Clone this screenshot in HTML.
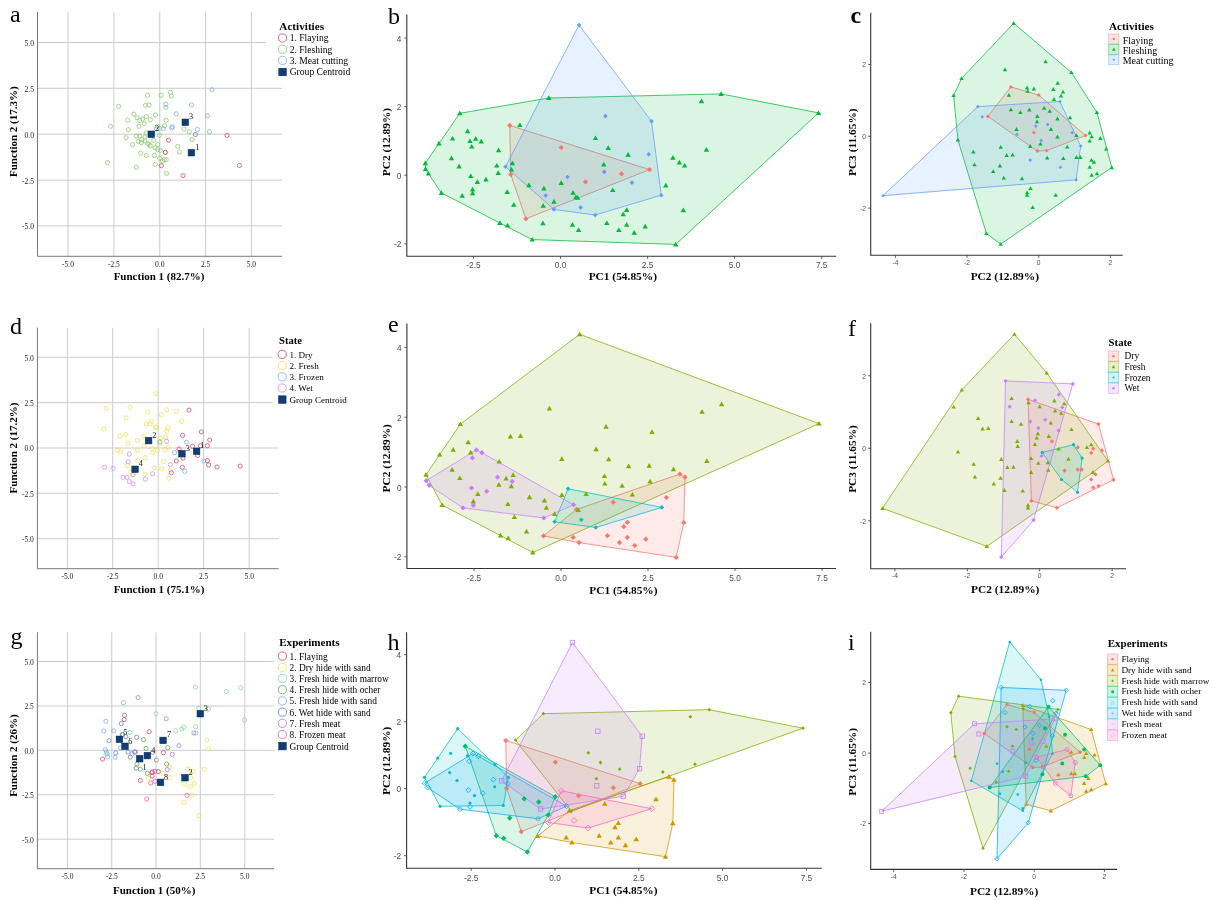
<!DOCTYPE html>
<html><head><meta charset="utf-8"><title>Figure</title><style>html,body{margin:0;padding:0;background:#fff}svg{display:block}</style></head><body>
<svg width="1213" height="900" viewBox="0 0 1213 900">
<rect width="1213" height="900" fill="#fff"/>
<line x1="37.5" y1="42.5" x2="266" y2="42.5" stroke="#cbcbcb" stroke-width="1"/>
<line x1="37.5" y1="88.3" x2="282" y2="88.3" stroke="#cbcbcb" stroke-width="1"/>
<line x1="37.5" y1="134.2" x2="282" y2="134.2" stroke="#cbcbcb" stroke-width="1"/>
<line x1="37.5" y1="180.2" x2="282" y2="180.2" stroke="#cbcbcb" stroke-width="1"/>
<line x1="37.5" y1="225.8" x2="282" y2="225.8" stroke="#cbcbcb" stroke-width="1"/>
<line x1="68" y1="12" x2="68" y2="256.3" stroke="#cbcbcb" stroke-width="1"/>
<line x1="113.9" y1="12" x2="113.9" y2="256.3" stroke="#cbcbcb" stroke-width="1"/>
<line x1="159.8" y1="12" x2="159.8" y2="256.3" stroke="#cbcbcb" stroke-width="1"/>
<line x1="205.6" y1="12" x2="205.6" y2="256.3" stroke="#cbcbcb" stroke-width="1"/>
<line x1="251.4" y1="12" x2="251.4" y2="256.3" stroke="#cbcbcb" stroke-width="1"/>
<line x1="37.5" y1="12" x2="37.5" y2="256.3" stroke="#7a7a7a" stroke-width="1"/>
<line x1="37.5" y1="256.3" x2="282" y2="256.3" stroke="#7a7a7a" stroke-width="1"/>
<text x="68.0" y="266.9" font-size="7.5" text-anchor="middle" font-family="Liberation Serif, serif"  fill="#222" >-5.0</text>
<text x="113.9" y="266.9" font-size="7.5" text-anchor="middle" font-family="Liberation Serif, serif"  fill="#222" >-2.5</text>
<text x="159.8" y="266.9" font-size="7.5" text-anchor="middle" font-family="Liberation Serif, serif"  fill="#222" >0.0</text>
<text x="205.6" y="266.9" font-size="7.5" text-anchor="middle" font-family="Liberation Serif, serif"  fill="#222" >2.5</text>
<text x="251.4" y="266.9" font-size="7.5" text-anchor="middle" font-family="Liberation Serif, serif"  fill="#222" >5.0</text>
<text x="33.9" y="45.9" font-size="7.5" text-anchor="end" font-family="Liberation Serif, serif"  fill="#222" >5.0</text>
<text x="33.9" y="91.7" font-size="7.5" text-anchor="end" font-family="Liberation Serif, serif"  fill="#222" >2.5</text>
<text x="33.9" y="137.6" font-size="7.5" text-anchor="end" font-family="Liberation Serif, serif"  fill="#222" >0.0</text>
<text x="33.9" y="183.6" font-size="7.5" text-anchor="end" font-family="Liberation Serif, serif"  fill="#222" >-2.5</text>
<text x="33.9" y="229.2" font-size="7.5" text-anchor="end" font-family="Liberation Serif, serif"  fill="#222" >-5.0</text>
<text x="159.0" y="279.7" font-size="11" text-anchor="middle" font-family="Liberation Serif, serif" font-weight="bold" fill="#000" >Function 1 (82.7%)</text>
<text transform="translate(17.0,131.7) rotate(-90)" font-size="11" text-anchor="middle" font-family="Liberation Serif, serif" font-weight="bold" fill="#000">Function 2 (17.3%)</text>
<text x="10.0" y="22.0" font-size="24" text-anchor="start" font-family="Liberation Serif, serif"  fill="#000" >a</text>
<circle cx="147.7" cy="95.3" r="2.1" fill="none" stroke="#86c868" stroke-width="0.75"/>
<circle cx="161.0" cy="95.3" r="2.1" fill="none" stroke="#86c868" stroke-width="0.75"/>
<circle cx="170.3" cy="92.3" r="2.1" fill="none" stroke="#86c868" stroke-width="0.75"/>
<circle cx="171.3" cy="96.1" r="2.1" fill="none" stroke="#86c868" stroke-width="0.75"/>
<circle cx="118.7" cy="106.3" r="2.1" fill="none" stroke="#86c868" stroke-width="0.75"/>
<circle cx="145.4" cy="105.4" r="2.1" fill="none" stroke="#86c868" stroke-width="0.75"/>
<circle cx="149.0" cy="105.1" r="2.1" fill="none" stroke="#86c868" stroke-width="0.75"/>
<circle cx="165.9" cy="107.4" r="2.1" fill="none" stroke="#86c868" stroke-width="0.75"/>
<circle cx="133.9" cy="114.1" r="2.1" fill="none" stroke="#86c868" stroke-width="0.75"/>
<circle cx="155.4" cy="114.9" r="2.1" fill="none" stroke="#86c868" stroke-width="0.75"/>
<circle cx="137.1" cy="117.7" r="2.1" fill="none" stroke="#86c868" stroke-width="0.75"/>
<circle cx="146.3" cy="116.6" r="2.1" fill="none" stroke="#86c868" stroke-width="0.75"/>
<circle cx="127.7" cy="120.3" r="2.1" fill="none" stroke="#86c868" stroke-width="0.75"/>
<circle cx="139.7" cy="120.3" r="2.1" fill="none" stroke="#86c868" stroke-width="0.75"/>
<circle cx="142.6" cy="119.0" r="2.1" fill="none" stroke="#86c868" stroke-width="0.75"/>
<circle cx="150.3" cy="119.7" r="2.1" fill="none" stroke="#86c868" stroke-width="0.75"/>
<circle cx="166.2" cy="120.3" r="2.1" fill="none" stroke="#86c868" stroke-width="0.75"/>
<circle cx="144.3" cy="123.7" r="2.1" fill="none" stroke="#86c868" stroke-width="0.75"/>
<circle cx="110.5" cy="126.3" r="2.1" fill="none" stroke="#86c868" stroke-width="0.75"/>
<circle cx="139.0" cy="126.3" r="2.1" fill="none" stroke="#86c868" stroke-width="0.75"/>
<circle cx="128.3" cy="129.7" r="2.1" fill="none" stroke="#86c868" stroke-width="0.75"/>
<circle cx="164.6" cy="125.7" r="2.1" fill="none" stroke="#86c868" stroke-width="0.75"/>
<circle cx="159.7" cy="128.3" r="2.1" fill="none" stroke="#86c868" stroke-width="0.75"/>
<circle cx="157.7" cy="126.3" r="2.1" fill="none" stroke="#86c868" stroke-width="0.75"/>
<circle cx="183.9" cy="128.9" r="2.1" fill="none" stroke="#86c868" stroke-width="0.75"/>
<circle cx="189.3" cy="131.7" r="2.1" fill="none" stroke="#86c868" stroke-width="0.75"/>
<circle cx="136.3" cy="136.1" r="2.1" fill="none" stroke="#86c868" stroke-width="0.75"/>
<circle cx="139.7" cy="136.1" r="2.1" fill="none" stroke="#86c868" stroke-width="0.75"/>
<circle cx="126.1" cy="137.7" r="2.1" fill="none" stroke="#86c868" stroke-width="0.75"/>
<circle cx="145.0" cy="137.0" r="2.1" fill="none" stroke="#86c868" stroke-width="0.75"/>
<circle cx="146.3" cy="133.0" r="2.1" fill="none" stroke="#86c868" stroke-width="0.75"/>
<circle cx="159.4" cy="135.3" r="2.1" fill="none" stroke="#86c868" stroke-width="0.75"/>
<circle cx="141.7" cy="139.7" r="2.1" fill="none" stroke="#86c868" stroke-width="0.75"/>
<circle cx="138.3" cy="141.4" r="2.1" fill="none" stroke="#86c868" stroke-width="0.75"/>
<circle cx="145.0" cy="141.0" r="2.1" fill="none" stroke="#86c868" stroke-width="0.75"/>
<circle cx="141.3" cy="142.7" r="2.1" fill="none" stroke="#86c868" stroke-width="0.75"/>
<circle cx="153.7" cy="140.3" r="2.1" fill="none" stroke="#86c868" stroke-width="0.75"/>
<circle cx="132.7" cy="144.6" r="2.1" fill="none" stroke="#86c868" stroke-width="0.75"/>
<circle cx="147.7" cy="143.7" r="2.1" fill="none" stroke="#86c868" stroke-width="0.75"/>
<circle cx="149.0" cy="144.3" r="2.1" fill="none" stroke="#86c868" stroke-width="0.75"/>
<circle cx="150.3" cy="145.7" r="2.1" fill="none" stroke="#86c868" stroke-width="0.75"/>
<circle cx="157.7" cy="144.6" r="2.1" fill="none" stroke="#86c868" stroke-width="0.75"/>
<circle cx="192.1" cy="139.5" r="2.1" fill="none" stroke="#86c868" stroke-width="0.75"/>
<circle cx="177.7" cy="146.3" r="2.1" fill="none" stroke="#86c868" stroke-width="0.75"/>
<circle cx="155.0" cy="147.7" r="2.1" fill="none" stroke="#86c868" stroke-width="0.75"/>
<circle cx="157.7" cy="149.7" r="2.1" fill="none" stroke="#86c868" stroke-width="0.75"/>
<circle cx="160.3" cy="150.3" r="2.1" fill="none" stroke="#86c868" stroke-width="0.75"/>
<circle cx="179.3" cy="151.9" r="2.1" fill="none" stroke="#86c868" stroke-width="0.75"/>
<circle cx="140.7" cy="153.1" r="2.1" fill="none" stroke="#86c868" stroke-width="0.75"/>
<circle cx="146.3" cy="155.4" r="2.1" fill="none" stroke="#86c868" stroke-width="0.75"/>
<circle cx="154.3" cy="155.4" r="2.1" fill="none" stroke="#86c868" stroke-width="0.75"/>
<circle cx="159.7" cy="158.3" r="2.1" fill="none" stroke="#86c868" stroke-width="0.75"/>
<circle cx="164.3" cy="159.7" r="2.1" fill="none" stroke="#86c868" stroke-width="0.75"/>
<circle cx="166.3" cy="159.7" r="2.1" fill="none" stroke="#86c868" stroke-width="0.75"/>
<circle cx="162.3" cy="161.0" r="2.1" fill="none" stroke="#86c868" stroke-width="0.75"/>
<circle cx="107.5" cy="162.6" r="2.1" fill="none" stroke="#86c868" stroke-width="0.75"/>
<circle cx="155.3" cy="164.3" r="2.1" fill="none" stroke="#86c868" stroke-width="0.75"/>
<circle cx="136.3" cy="167.3" r="2.1" fill="none" stroke="#86c868" stroke-width="0.75"/>
<circle cx="166.6" cy="173.4" r="2.1" fill="none" stroke="#86c868" stroke-width="0.75"/>
<circle cx="165.3" cy="152.3" r="2.1" fill="none" stroke="#86c868" stroke-width="0.75"/>
<circle cx="211.9" cy="89.7" r="2.1" fill="none" stroke="#74aeea" stroke-width="0.75"/>
<circle cx="165.9" cy="104.3" r="2.1" fill="none" stroke="#74aeea" stroke-width="0.75"/>
<circle cx="191.4" cy="104.9" r="2.1" fill="none" stroke="#74aeea" stroke-width="0.75"/>
<circle cx="176.3" cy="113.9" r="2.1" fill="none" stroke="#74aeea" stroke-width="0.75"/>
<circle cx="207.4" cy="115.7" r="2.1" fill="none" stroke="#74aeea" stroke-width="0.75"/>
<circle cx="172.3" cy="126.7" r="2.1" fill="none" stroke="#74aeea" stroke-width="0.75"/>
<circle cx="171.7" cy="127.9" r="2.1" fill="none" stroke="#74aeea" stroke-width="0.75"/>
<circle cx="163.4" cy="128.6" r="2.1" fill="none" stroke="#74aeea" stroke-width="0.75"/>
<circle cx="156.3" cy="129.0" r="2.1" fill="none" stroke="#74aeea" stroke-width="0.75"/>
<circle cx="197.4" cy="129.4" r="2.1" fill="none" stroke="#74aeea" stroke-width="0.75"/>
<circle cx="209.4" cy="131.7" r="2.1" fill="none" stroke="#74aeea" stroke-width="0.75"/>
<circle cx="227.0" cy="135.3" r="2.1" fill="none" stroke="#d4405e" stroke-width="0.75"/>
<circle cx="168.5" cy="140.3" r="2.1" fill="none" stroke="#d4405e" stroke-width="0.75"/>
<circle cx="165.3" cy="152.3" r="2.1" fill="none" stroke="#d4405e" stroke-width="0.75"/>
<circle cx="161.3" cy="165.7" r="2.1" fill="none" stroke="#d4405e" stroke-width="0.75"/>
<circle cx="183.0" cy="175.7" r="2.1" fill="none" stroke="#d4405e" stroke-width="0.75"/>
<circle cx="239.4" cy="165.4" r="2.1" fill="none" stroke="#d4405e" stroke-width="0.75"/>
<circle cx="195.4" cy="134.5" r="2.1" fill="none" stroke="#8060b0" stroke-width="0.75"/>
<rect x="182.0" y="119.0" width="6.6" height="6.6" fill="#0f3d74" stroke="#0a2a55" stroke-width="0.5"/>
<text x="191.1" y="119.2" font-size="8.2" text-anchor="middle" font-family="Liberation Serif, serif"  fill="#111" >3</text>
<rect x="148.0" y="131.0" width="6.6" height="6.6" fill="#0f3d74" stroke="#0a2a55" stroke-width="0.5"/>
<text x="157.1" y="131.2" font-size="8.2" text-anchor="middle" font-family="Liberation Serif, serif"  fill="#111" >2</text>
<rect x="188.1" y="149.4" width="6.6" height="6.6" fill="#0f3d74" stroke="#0a2a55" stroke-width="0.5"/>
<text x="197.2" y="149.6" font-size="8.2" text-anchor="middle" font-family="Liberation Serif, serif"  fill="#111" >1</text>
<text x="279.3" y="29.6" font-size="11.2" text-anchor="start" font-family="Liberation Serif, serif" font-weight="bold" fill="#000" >Activities</text>
<circle cx="282.5" cy="38.0" r="4.1" fill="none" stroke="#d4405e" stroke-width="0.8"/>
<text x="289.7" y="41.4" font-size="9.6" text-anchor="start" font-family="Liberation Serif, serif"  fill="#000" >1. Flaying</text>
<circle cx="282.5" cy="49.2" r="4.1" fill="none" stroke="#86c868" stroke-width="0.8"/>
<text x="289.7" y="52.6" font-size="9.6" text-anchor="start" font-family="Liberation Serif, serif"  fill="#000" >2. Fleshing</text>
<circle cx="282.5" cy="60.4" r="4.1" fill="none" stroke="#74aeea" stroke-width="0.8"/>
<text x="289.7" y="63.8" font-size="9.6" text-anchor="start" font-family="Liberation Serif, serif"  fill="#000" >3. Meat cutting</text>
<rect x="278.8" y="68.2" width="7.6" height="7.6" fill="#0f3d74" stroke="#0a2a55" stroke-width="0.5"/>
<text x="289.7" y="75.4" font-size="9.6" text-anchor="start" font-family="Liberation Serif, serif"  fill="#000" >Group Centroid</text>
<line x1="37.4" y1="357.3" x2="272.7" y2="357.3" stroke="#cbcbcb" stroke-width="1"/>
<line x1="37.4" y1="402.6" x2="272.7" y2="402.6" stroke="#cbcbcb" stroke-width="1"/>
<line x1="37.4" y1="448" x2="278.7" y2="448" stroke="#cbcbcb" stroke-width="1"/>
<line x1="37.4" y1="493.3" x2="278.7" y2="493.3" stroke="#cbcbcb" stroke-width="1"/>
<line x1="37.4" y1="538.7" x2="278.7" y2="538.7" stroke="#cbcbcb" stroke-width="1"/>
<line x1="67.4" y1="327.7" x2="67.4" y2="568.7" stroke="#cbcbcb" stroke-width="1"/>
<line x1="112.7" y1="327.7" x2="112.7" y2="568.7" stroke="#cbcbcb" stroke-width="1"/>
<line x1="158.2" y1="327.7" x2="158.2" y2="568.7" stroke="#cbcbcb" stroke-width="1"/>
<line x1="203.6" y1="327.7" x2="203.6" y2="568.7" stroke="#cbcbcb" stroke-width="1"/>
<line x1="249.2" y1="327.7" x2="249.2" y2="568.7" stroke="#cbcbcb" stroke-width="1"/>
<line x1="37.4" y1="327.7" x2="37.4" y2="568.7" stroke="#7a7a7a" stroke-width="1"/>
<line x1="37.4" y1="568.7" x2="278.7" y2="568.7" stroke="#7a7a7a" stroke-width="1"/>
<text x="67.4" y="579.3" font-size="7.5" text-anchor="middle" font-family="Liberation Serif, serif"  fill="#222" >-5.0</text>
<text x="112.7" y="579.3" font-size="7.5" text-anchor="middle" font-family="Liberation Serif, serif"  fill="#222" >-2.5</text>
<text x="158.2" y="579.3" font-size="7.5" text-anchor="middle" font-family="Liberation Serif, serif"  fill="#222" >0.0</text>
<text x="203.6" y="579.3" font-size="7.5" text-anchor="middle" font-family="Liberation Serif, serif"  fill="#222" >2.5</text>
<text x="249.2" y="579.3" font-size="7.5" text-anchor="middle" font-family="Liberation Serif, serif"  fill="#222" >5.0</text>
<text x="33.8" y="360.7" font-size="7.5" text-anchor="end" font-family="Liberation Serif, serif"  fill="#222" >5.0</text>
<text x="33.8" y="406.0" font-size="7.5" text-anchor="end" font-family="Liberation Serif, serif"  fill="#222" >2.5</text>
<text x="33.8" y="451.4" font-size="7.5" text-anchor="end" font-family="Liberation Serif, serif"  fill="#222" >0.0</text>
<text x="33.8" y="496.7" font-size="7.5" text-anchor="end" font-family="Liberation Serif, serif"  fill="#222" >-2.5</text>
<text x="33.8" y="542.1" font-size="7.5" text-anchor="end" font-family="Liberation Serif, serif"  fill="#222" >-5.0</text>
<text x="159.0" y="593.3" font-size="11" text-anchor="middle" font-family="Liberation Serif, serif" font-weight="bold" fill="#000" >Function 1 (75.1%)</text>
<text transform="translate(17.0,448.0) rotate(-90)" font-size="11" text-anchor="middle" font-family="Liberation Serif, serif" font-weight="bold" fill="#000">Function 2 (17.2%)</text>
<text x="10.0" y="333.7" font-size="24" text-anchor="start" font-family="Liberation Serif, serif"  fill="#000" >d</text>
<circle cx="156.1" cy="393.7" r="2.1" fill="none" stroke="#efe050" stroke-width="0.75"/>
<circle cx="106.1" cy="408.3" r="2.1" fill="none" stroke="#efe050" stroke-width="0.75"/>
<circle cx="130.1" cy="407.3" r="2.1" fill="none" stroke="#efe050" stroke-width="0.75"/>
<circle cx="166.7" cy="409.9" r="2.1" fill="none" stroke="#efe050" stroke-width="0.75"/>
<circle cx="176.3" cy="411.3" r="2.1" fill="none" stroke="#efe050" stroke-width="0.75"/>
<circle cx="147.7" cy="412.1" r="2.1" fill="none" stroke="#efe050" stroke-width="0.75"/>
<circle cx="161.4" cy="415.0" r="2.1" fill="none" stroke="#efe050" stroke-width="0.75"/>
<circle cx="126.1" cy="417.9" r="2.1" fill="none" stroke="#efe050" stroke-width="0.75"/>
<circle cx="181.7" cy="421.3" r="2.1" fill="none" stroke="#efe050" stroke-width="0.75"/>
<circle cx="151.3" cy="421.3" r="2.1" fill="none" stroke="#efe050" stroke-width="0.75"/>
<circle cx="146.3" cy="424.1" r="2.1" fill="none" stroke="#efe050" stroke-width="0.75"/>
<circle cx="150.3" cy="423.7" r="2.1" fill="none" stroke="#efe050" stroke-width="0.75"/>
<circle cx="155.7" cy="427.0" r="2.1" fill="none" stroke="#efe050" stroke-width="0.75"/>
<circle cx="156.1" cy="427.7" r="2.1" fill="none" stroke="#efe050" stroke-width="0.75"/>
<circle cx="167.9" cy="427.9" r="2.1" fill="none" stroke="#efe050" stroke-width="0.75"/>
<circle cx="103.8" cy="429.0" r="2.1" fill="none" stroke="#efe050" stroke-width="0.75"/>
<circle cx="166.6" cy="431.3" r="2.1" fill="none" stroke="#efe050" stroke-width="0.75"/>
<circle cx="125.7" cy="434.6" r="2.1" fill="none" stroke="#efe050" stroke-width="0.75"/>
<circle cx="120.1" cy="436.3" r="2.1" fill="none" stroke="#efe050" stroke-width="0.75"/>
<circle cx="144.1" cy="436.3" r="2.1" fill="none" stroke="#efe050" stroke-width="0.75"/>
<circle cx="165.7" cy="437.3" r="2.1" fill="none" stroke="#efe050" stroke-width="0.75"/>
<circle cx="161.0" cy="438.3" r="2.1" fill="none" stroke="#efe050" stroke-width="0.75"/>
<circle cx="137.4" cy="440.3" r="2.1" fill="none" stroke="#efe050" stroke-width="0.75"/>
<circle cx="128.1" cy="443.4" r="2.1" fill="none" stroke="#efe050" stroke-width="0.75"/>
<circle cx="144.3" cy="445.7" r="2.1" fill="none" stroke="#efe050" stroke-width="0.75"/>
<circle cx="168.3" cy="447.3" r="2.1" fill="none" stroke="#efe050" stroke-width="0.75"/>
<circle cx="159.7" cy="443.7" r="2.1" fill="none" stroke="#efe050" stroke-width="0.75"/>
<circle cx="152.3" cy="448.7" r="2.1" fill="none" stroke="#efe050" stroke-width="0.75"/>
<circle cx="157.4" cy="449.9" r="2.1" fill="none" stroke="#efe050" stroke-width="0.75"/>
<circle cx="165.0" cy="449.7" r="2.1" fill="none" stroke="#efe050" stroke-width="0.75"/>
<circle cx="117.4" cy="450.3" r="2.1" fill="none" stroke="#efe050" stroke-width="0.75"/>
<circle cx="120.7" cy="451.7" r="2.1" fill="none" stroke="#efe050" stroke-width="0.75"/>
<circle cx="137.4" cy="450.3" r="2.1" fill="none" stroke="#efe050" stroke-width="0.75"/>
<circle cx="152.7" cy="452.7" r="2.1" fill="none" stroke="#efe050" stroke-width="0.75"/>
<circle cx="145.3" cy="457.7" r="2.1" fill="none" stroke="#efe050" stroke-width="0.75"/>
<circle cx="137.7" cy="460.6" r="2.1" fill="none" stroke="#efe050" stroke-width="0.75"/>
<circle cx="163.7" cy="461.4" r="2.1" fill="none" stroke="#efe050" stroke-width="0.75"/>
<circle cx="127.7" cy="465.7" r="2.1" fill="none" stroke="#efe050" stroke-width="0.75"/>
<circle cx="154.3" cy="467.9" r="2.1" fill="none" stroke="#efe050" stroke-width="0.75"/>
<circle cx="161.7" cy="468.6" r="2.1" fill="none" stroke="#efe050" stroke-width="0.75"/>
<circle cx="170.3" cy="469.9" r="2.1" fill="none" stroke="#efe050" stroke-width="0.75"/>
<circle cx="145.0" cy="474.3" r="2.1" fill="none" stroke="#efe050" stroke-width="0.75"/>
<circle cx="132.3" cy="475.0" r="2.1" fill="none" stroke="#efe050" stroke-width="0.75"/>
<circle cx="168.7" cy="478.3" r="2.1" fill="none" stroke="#efe050" stroke-width="0.75"/>
<circle cx="130.7" cy="471.7" r="2.1" fill="none" stroke="#efe050" stroke-width="0.75"/>
<circle cx="166.6" cy="441.3" r="2.1" fill="none" stroke="#cf8af0" stroke-width="0.75"/>
<circle cx="129.4" cy="454.1" r="2.1" fill="none" stroke="#cf8af0" stroke-width="0.75"/>
<circle cx="128.3" cy="461.7" r="2.1" fill="none" stroke="#cf8af0" stroke-width="0.75"/>
<circle cx="104.6" cy="467.3" r="2.1" fill="none" stroke="#cf8af0" stroke-width="0.75"/>
<circle cx="113.0" cy="468.3" r="2.1" fill="none" stroke="#cf8af0" stroke-width="0.75"/>
<circle cx="170.3" cy="464.6" r="2.1" fill="none" stroke="#cf8af0" stroke-width="0.75"/>
<circle cx="152.6" cy="473.9" r="2.1" fill="none" stroke="#cf8af0" stroke-width="0.75"/>
<circle cx="123.0" cy="477.3" r="2.1" fill="none" stroke="#cf8af0" stroke-width="0.75"/>
<circle cx="127.0" cy="477.4" r="2.1" fill="none" stroke="#cf8af0" stroke-width="0.75"/>
<circle cx="145.3" cy="479.0" r="2.1" fill="none" stroke="#cf8af0" stroke-width="0.75"/>
<circle cx="129.4" cy="481.7" r="2.1" fill="none" stroke="#cf8af0" stroke-width="0.75"/>
<circle cx="133.0" cy="483.9" r="2.1" fill="none" stroke="#cf8af0" stroke-width="0.75"/>
<circle cx="133.3" cy="474.6" r="2.1" fill="none" stroke="#cf8af0" stroke-width="0.75"/>
<circle cx="186.5" cy="442.3" r="2.1" fill="none" stroke="#74aeea" stroke-width="0.75"/>
<circle cx="174.6" cy="452.6" r="2.1" fill="none" stroke="#74aeea" stroke-width="0.75"/>
<circle cx="203.9" cy="461.0" r="2.1" fill="none" stroke="#74aeea" stroke-width="0.75"/>
<circle cx="184.7" cy="471.3" r="2.1" fill="none" stroke="#74aeea" stroke-width="0.75"/>
<circle cx="159.9" cy="441.9" r="2.1" fill="none" stroke="#6dbb8a" stroke-width="0.75"/>
<circle cx="189.0" cy="410.1" r="2.1" fill="none" stroke="#d4405e" stroke-width="0.75"/>
<circle cx="201.4" cy="431.9" r="2.1" fill="none" stroke="#d4405e" stroke-width="0.75"/>
<circle cx="182.6" cy="435.3" r="2.1" fill="none" stroke="#d4405e" stroke-width="0.75"/>
<circle cx="209.7" cy="440.1" r="2.1" fill="none" stroke="#d4405e" stroke-width="0.75"/>
<circle cx="192.6" cy="446.3" r="2.1" fill="none" stroke="#d4405e" stroke-width="0.75"/>
<circle cx="200.3" cy="445.7" r="2.1" fill="none" stroke="#d4405e" stroke-width="0.75"/>
<circle cx="207.3" cy="445.7" r="2.1" fill="none" stroke="#d4405e" stroke-width="0.75"/>
<circle cx="179.0" cy="449.0" r="2.1" fill="none" stroke="#d4405e" stroke-width="0.75"/>
<circle cx="197.7" cy="455.4" r="2.1" fill="none" stroke="#d4405e" stroke-width="0.75"/>
<circle cx="183.0" cy="458.1" r="2.1" fill="none" stroke="#d4405e" stroke-width="0.75"/>
<circle cx="176.3" cy="461.0" r="2.1" fill="none" stroke="#d4405e" stroke-width="0.75"/>
<circle cx="207.4" cy="460.6" r="2.1" fill="none" stroke="#d4405e" stroke-width="0.75"/>
<circle cx="208.6" cy="465.0" r="2.1" fill="none" stroke="#d4405e" stroke-width="0.75"/>
<circle cx="182.3" cy="467.3" r="2.1" fill="none" stroke="#d4405e" stroke-width="0.75"/>
<circle cx="217.0" cy="467.0" r="2.1" fill="none" stroke="#d4405e" stroke-width="0.75"/>
<circle cx="240.2" cy="466.1" r="2.1" fill="none" stroke="#d4405e" stroke-width="0.75"/>
<circle cx="171.3" cy="472.7" r="2.1" fill="none" stroke="#d4405e" stroke-width="0.75"/>
<rect x="145.3" y="437.3" width="6.6" height="6.6" fill="#0f3d74" stroke="#0a2a55" stroke-width="0.5"/>
<text x="154.4" y="437.5" font-size="8.2" text-anchor="middle" font-family="Liberation Serif, serif"  fill="#111" >2</text>
<rect x="178.6" y="450.4" width="6.6" height="6.6" fill="#0f3d74" stroke="#0a2a55" stroke-width="0.5"/>
<text x="187.7" y="450.6" font-size="8.2" text-anchor="middle" font-family="Liberation Serif, serif"  fill="#111" >3</text>
<rect x="193.3" y="448.0" width="6.6" height="6.6" fill="#0f3d74" stroke="#0a2a55" stroke-width="0.5"/>
<text x="202.4" y="448.2" font-size="8.2" text-anchor="middle" font-family="Liberation Serif, serif"  fill="#111" >1</text>
<rect x="131.8" y="466.0" width="6.6" height="6.6" fill="#0f3d74" stroke="#0a2a55" stroke-width="0.5"/>
<text x="140.9" y="466.2" font-size="8.2" text-anchor="middle" font-family="Liberation Serif, serif"  fill="#111" >4</text>
<text x="279.0" y="344.3" font-size="10.6" text-anchor="start" font-family="Liberation Serif, serif" font-weight="bold" fill="#000" >State</text>
<circle cx="282.2" cy="354.4" r="4.1" fill="none" stroke="#d4405e" stroke-width="0.8"/>
<text x="289.4" y="357.8" font-size="9.1" text-anchor="start" font-family="Liberation Serif, serif"  fill="#000" >1. Dry</text>
<circle cx="282.2" cy="365.6" r="4.1" fill="none" stroke="#efe050" stroke-width="0.8"/>
<text x="289.4" y="369.0" font-size="9.1" text-anchor="start" font-family="Liberation Serif, serif"  fill="#000" >2. Fresh</text>
<circle cx="282.2" cy="376.8" r="4.1" fill="none" stroke="#74aeea" stroke-width="0.8"/>
<text x="289.4" y="380.2" font-size="9.1" text-anchor="start" font-family="Liberation Serif, serif"  fill="#000" >3. Frozen</text>
<circle cx="282.2" cy="388.0" r="4.1" fill="none" stroke="#cf8af0" stroke-width="0.8"/>
<text x="289.4" y="391.4" font-size="9.1" text-anchor="start" font-family="Liberation Serif, serif"  fill="#000" >4. Wet</text>
<rect x="278.5" y="395.8" width="7.6" height="7.6" fill="#0f3d74" stroke="#0a2a55" stroke-width="0.5"/>
<text x="289.4" y="403.0" font-size="9.1" text-anchor="start" font-family="Liberation Serif, serif"  fill="#000" >Group Centroid</text>
<line x1="37.4" y1="661.5" x2="274" y2="661.5" stroke="#cbcbcb" stroke-width="1"/>
<line x1="37.4" y1="706" x2="274" y2="706" stroke="#cbcbcb" stroke-width="1"/>
<line x1="37.4" y1="750.3" x2="274" y2="750.3" stroke="#cbcbcb" stroke-width="1"/>
<line x1="37.4" y1="794.7" x2="274" y2="794.7" stroke="#cbcbcb" stroke-width="1"/>
<line x1="37.4" y1="839.2" x2="274" y2="839.2" stroke="#cbcbcb" stroke-width="1"/>
<line x1="67.5" y1="632.3" x2="67.5" y2="868.7" stroke="#cbcbcb" stroke-width="1"/>
<line x1="111.8" y1="632.3" x2="111.8" y2="868.7" stroke="#cbcbcb" stroke-width="1"/>
<line x1="156" y1="632.3" x2="156" y2="868.7" stroke="#cbcbcb" stroke-width="1"/>
<line x1="200.3" y1="632.3" x2="200.3" y2="868.7" stroke="#cbcbcb" stroke-width="1"/>
<line x1="244.8" y1="632.3" x2="244.8" y2="868.7" stroke="#cbcbcb" stroke-width="1"/>
<line x1="37.4" y1="632.3" x2="37.4" y2="868.7" stroke="#7a7a7a" stroke-width="1"/>
<line x1="37.4" y1="868.7" x2="274" y2="868.7" stroke="#7a7a7a" stroke-width="1"/>
<text x="67.5" y="879.3" font-size="7.5" text-anchor="middle" font-family="Liberation Serif, serif"  fill="#222" >-5.0</text>
<text x="111.8" y="879.3" font-size="7.5" text-anchor="middle" font-family="Liberation Serif, serif"  fill="#222" >-2.5</text>
<text x="156.0" y="879.3" font-size="7.5" text-anchor="middle" font-family="Liberation Serif, serif"  fill="#222" >0.0</text>
<text x="200.3" y="879.3" font-size="7.5" text-anchor="middle" font-family="Liberation Serif, serif"  fill="#222" >2.5</text>
<text x="244.8" y="879.3" font-size="7.5" text-anchor="middle" font-family="Liberation Serif, serif"  fill="#222" >5.0</text>
<text x="33.8" y="664.9" font-size="7.5" text-anchor="end" font-family="Liberation Serif, serif"  fill="#222" >5.0</text>
<text x="33.8" y="709.4" font-size="7.5" text-anchor="end" font-family="Liberation Serif, serif"  fill="#222" >2.5</text>
<text x="33.8" y="753.7" font-size="7.5" text-anchor="end" font-family="Liberation Serif, serif"  fill="#222" >0.0</text>
<text x="33.8" y="798.1" font-size="7.5" text-anchor="end" font-family="Liberation Serif, serif"  fill="#222" >-2.5</text>
<text x="33.8" y="842.6" font-size="7.5" text-anchor="end" font-family="Liberation Serif, serif"  fill="#222" >-5.0</text>
<text x="154.2" y="894.0" font-size="11" text-anchor="middle" font-family="Liberation Serif, serif" font-weight="bold" fill="#000" >Function 1 (50%)</text>
<text transform="translate(17.0,755.6) rotate(-90)" font-size="11" text-anchor="middle" font-family="Liberation Serif, serif" font-weight="bold" fill="#000">Function 2 (26%)</text>
<text x="10.5" y="644.0" font-size="24" text-anchor="start" font-family="Liberation Serif, serif"  fill="#000" >g</text>
<circle cx="206.7" cy="740.0" r="2.1" fill="none" stroke="#efe050" stroke-width="0.75"/>
<circle cx="208.6" cy="748.9" r="2.1" fill="none" stroke="#efe050" stroke-width="0.75"/>
<circle cx="169.7" cy="767.3" r="2.1" fill="none" stroke="#efe050" stroke-width="0.75"/>
<circle cx="187.7" cy="768.9" r="2.1" fill="none" stroke="#efe050" stroke-width="0.75"/>
<circle cx="193.0" cy="771.3" r="2.1" fill="none" stroke="#efe050" stroke-width="0.75"/>
<circle cx="204.3" cy="769.3" r="2.1" fill="none" stroke="#efe050" stroke-width="0.75"/>
<circle cx="163.0" cy="772.9" r="2.1" fill="none" stroke="#efe050" stroke-width="0.75"/>
<circle cx="169.9" cy="777.6" r="2.1" fill="none" stroke="#efe050" stroke-width="0.75"/>
<circle cx="148.3" cy="778.7" r="2.1" fill="none" stroke="#efe050" stroke-width="0.75"/>
<circle cx="191.0" cy="778.0" r="2.1" fill="none" stroke="#efe050" stroke-width="0.75"/>
<circle cx="194.3" cy="783.3" r="2.1" fill="none" stroke="#efe050" stroke-width="0.75"/>
<circle cx="184.1" cy="783.7" r="2.1" fill="none" stroke="#efe050" stroke-width="0.75"/>
<circle cx="190.5" cy="786.7" r="2.1" fill="none" stroke="#efe050" stroke-width="0.75"/>
<circle cx="191.9" cy="795.3" r="2.1" fill="none" stroke="#efe050" stroke-width="0.75"/>
<circle cx="184.0" cy="802.3" r="2.1" fill="none" stroke="#efe050" stroke-width="0.75"/>
<circle cx="199.0" cy="815.7" r="2.1" fill="none" stroke="#efe050" stroke-width="0.75"/>
<circle cx="195.5" cy="687.1" r="2.1" fill="none" stroke="#8ad6a3" stroke-width="0.75"/>
<circle cx="226.3" cy="691.6" r="2.1" fill="none" stroke="#8ad6a3" stroke-width="0.75"/>
<circle cx="240.6" cy="687.7" r="2.1" fill="none" stroke="#8ad6a3" stroke-width="0.75"/>
<circle cx="155.9" cy="713.7" r="2.1" fill="none" stroke="#8ad6a3" stroke-width="0.75"/>
<circle cx="198.7" cy="708.3" r="2.1" fill="none" stroke="#8ad6a3" stroke-width="0.75"/>
<circle cx="208.6" cy="709.1" r="2.1" fill="none" stroke="#8ad6a3" stroke-width="0.75"/>
<circle cx="244.5" cy="720.0" r="2.1" fill="none" stroke="#8ad6a3" stroke-width="0.75"/>
<circle cx="195.7" cy="726.7" r="2.1" fill="none" stroke="#8ad6a3" stroke-width="0.75"/>
<circle cx="183.9" cy="727.1" r="2.1" fill="none" stroke="#8ad6a3" stroke-width="0.75"/>
<circle cx="181.7" cy="729.1" r="2.1" fill="none" stroke="#8ad6a3" stroke-width="0.75"/>
<circle cx="175.7" cy="730.7" r="2.1" fill="none" stroke="#8ad6a3" stroke-width="0.75"/>
<circle cx="195.9" cy="733.1" r="2.1" fill="none" stroke="#8ad6a3" stroke-width="0.75"/>
<circle cx="123.5" cy="702.7" r="2.1" fill="none" stroke="#74aeea" stroke-width="0.75"/>
<circle cx="105.9" cy="721.3" r="2.1" fill="none" stroke="#74aeea" stroke-width="0.75"/>
<circle cx="103.8" cy="731.1" r="2.1" fill="none" stroke="#74aeea" stroke-width="0.75"/>
<circle cx="113.7" cy="730.7" r="2.1" fill="none" stroke="#74aeea" stroke-width="0.75"/>
<circle cx="129.9" cy="732.4" r="2.1" fill="none" stroke="#74aeea" stroke-width="0.75"/>
<circle cx="105.4" cy="749.7" r="2.1" fill="none" stroke="#74aeea" stroke-width="0.75"/>
<circle cx="106.3" cy="752.0" r="2.1" fill="none" stroke="#74aeea" stroke-width="0.75"/>
<circle cx="107.0" cy="754.0" r="2.1" fill="none" stroke="#74aeea" stroke-width="0.75"/>
<circle cx="107.7" cy="756.7" r="2.1" fill="none" stroke="#74aeea" stroke-width="0.75"/>
<circle cx="115.0" cy="757.3" r="2.1" fill="none" stroke="#74aeea" stroke-width="0.75"/>
<circle cx="120.6" cy="748.0" r="2.1" fill="none" stroke="#74aeea" stroke-width="0.75"/>
<circle cx="132.3" cy="753.7" r="2.1" fill="none" stroke="#74aeea" stroke-width="0.75"/>
<circle cx="122.3" cy="734.7" r="2.1" fill="none" stroke="#74aeea" stroke-width="0.75"/>
<circle cx="124.6" cy="715.3" r="2.1" fill="none" stroke="#6f78c8" stroke-width="0.75"/>
<circle cx="121.3" cy="723.6" r="2.1" fill="none" stroke="#6f78c8" stroke-width="0.75"/>
<circle cx="136.6" cy="737.3" r="2.1" fill="none" stroke="#6f78c8" stroke-width="0.75"/>
<circle cx="109.0" cy="740.7" r="2.1" fill="none" stroke="#6f78c8" stroke-width="0.75"/>
<circle cx="125.9" cy="736.7" r="2.1" fill="none" stroke="#6f78c8" stroke-width="0.75"/>
<circle cx="115.7" cy="752.9" r="2.1" fill="none" stroke="#6f78c8" stroke-width="0.75"/>
<circle cx="128.1" cy="752.0" r="2.1" fill="none" stroke="#6f78c8" stroke-width="0.75"/>
<circle cx="130.3" cy="757.1" r="2.1" fill="none" stroke="#6f78c8" stroke-width="0.75"/>
<circle cx="136.3" cy="768.0" r="2.1" fill="none" stroke="#6f78c8" stroke-width="0.75"/>
<circle cx="155.0" cy="771.3" r="2.1" fill="none" stroke="#6f78c8" stroke-width="0.75"/>
<circle cx="134.6" cy="752.0" r="2.1" fill="none" stroke="#6f78c8" stroke-width="0.75"/>
<circle cx="138.1" cy="697.6" r="2.1" fill="none" stroke="#b56fe6" stroke-width="0.75"/>
<circle cx="166.2" cy="718.7" r="2.1" fill="none" stroke="#b56fe6" stroke-width="0.75"/>
<circle cx="193.9" cy="732.9" r="2.1" fill="none" stroke="#b56fe6" stroke-width="0.75"/>
<circle cx="178.9" cy="745.7" r="2.1" fill="none" stroke="#b56fe6" stroke-width="0.75"/>
<circle cx="135.4" cy="752.0" r="2.1" fill="none" stroke="#b56fe6" stroke-width="0.75"/>
<circle cx="152.7" cy="752.4" r="2.1" fill="none" stroke="#b56fe6" stroke-width="0.75"/>
<circle cx="172.3" cy="754.4" r="2.1" fill="none" stroke="#b56fe6" stroke-width="0.75"/>
<circle cx="167.3" cy="769.6" r="2.1" fill="none" stroke="#b56fe6" stroke-width="0.75"/>
<circle cx="143.4" cy="739.6" r="2.1" fill="none" stroke="#56a648" stroke-width="0.75"/>
<circle cx="146.1" cy="748.3" r="2.1" fill="none" stroke="#56a648" stroke-width="0.75"/>
<circle cx="167.7" cy="747.7" r="2.1" fill="none" stroke="#56a648" stroke-width="0.75"/>
<circle cx="156.3" cy="760.0" r="2.1" fill="none" stroke="#56a648" stroke-width="0.75"/>
<circle cx="166.6" cy="764.0" r="2.1" fill="none" stroke="#56a648" stroke-width="0.75"/>
<circle cx="137.0" cy="764.0" r="2.1" fill="none" stroke="#56a648" stroke-width="0.75"/>
<circle cx="140.3" cy="769.3" r="2.1" fill="none" stroke="#56a648" stroke-width="0.75"/>
<circle cx="147.4" cy="773.3" r="2.1" fill="none" stroke="#56a648" stroke-width="0.75"/>
<circle cx="122.6" cy="734.3" r="2.1" fill="none" stroke="#56a648" stroke-width="0.75"/>
<circle cx="150.7" cy="783.1" r="2.1" fill="none" stroke="#f0589f" stroke-width="0.75"/>
<circle cx="155.0" cy="781.3" r="2.1" fill="none" stroke="#f0589f" stroke-width="0.75"/>
<circle cx="187.0" cy="795.3" r="2.1" fill="none" stroke="#f0589f" stroke-width="0.75"/>
<circle cx="146.7" cy="799.1" r="2.1" fill="none" stroke="#f0589f" stroke-width="0.75"/>
<circle cx="152.3" cy="772.0" r="2.1" fill="none" stroke="#f0589f" stroke-width="0.75"/>
<circle cx="124.1" cy="719.6" r="2.1" fill="none" stroke="#d4405e" stroke-width="0.75"/>
<circle cx="149.1" cy="731.7" r="2.1" fill="none" stroke="#d4405e" stroke-width="0.75"/>
<circle cx="102.6" cy="759.1" r="2.1" fill="none" stroke="#d4405e" stroke-width="0.75"/>
<circle cx="163.4" cy="752.7" r="2.1" fill="none" stroke="#d4405e" stroke-width="0.75"/>
<circle cx="158.3" cy="771.6" r="2.1" fill="none" stroke="#d4405e" stroke-width="0.75"/>
<circle cx="152.1" cy="772.3" r="2.1" fill="none" stroke="#d4405e" stroke-width="0.75"/>
<circle cx="152.1" cy="776.0" r="2.1" fill="none" stroke="#d4405e" stroke-width="0.75"/>
<circle cx="140.3" cy="780.4" r="2.1" fill="none" stroke="#d4405e" stroke-width="0.75"/>
<rect x="116.1" y="736.0" width="6.6" height="6.6" fill="#0f3d74" stroke="#0a2a55" stroke-width="0.5"/>
<text x="125.4" y="735.4" font-size="8.2" text-anchor="middle" font-family="Liberation Serif, serif"  fill="#111" >5</text>
<rect x="121.7" y="743.0" width="6.6" height="6.6" fill="#0f3d74" stroke="#0a2a55" stroke-width="0.5"/>
<text x="130.3" y="744.0" font-size="8.2" text-anchor="middle" font-family="Liberation Serif, serif"  fill="#111" >6</text>
<rect x="136.4" y="755.4" width="6.6" height="6.6" fill="#0f3d74" stroke="#0a2a55" stroke-width="0.5"/>
<text x="144.6" y="770.0" font-size="8.2" text-anchor="middle" font-family="Liberation Serif, serif"  fill="#111" >1</text>
<rect x="144.1" y="752.3" width="6.6" height="6.6" fill="#0f3d74" stroke="#0a2a55" stroke-width="0.5"/>
<text x="153.4" y="753.0" font-size="8.2" text-anchor="middle" font-family="Liberation Serif, serif"  fill="#111" >4</text>
<rect x="159.8" y="737.1" width="6.6" height="6.6" fill="#0f3d74" stroke="#0a2a55" stroke-width="0.5"/>
<text x="169.0" y="737.1" font-size="8.2" text-anchor="middle" font-family="Liberation Serif, serif"  fill="#111" >7</text>
<rect x="197.0" y="710.4" width="6.6" height="6.6" fill="#0f3d74" stroke="#0a2a55" stroke-width="0.5"/>
<text x="205.7" y="710.7" font-size="8.2" text-anchor="middle" font-family="Liberation Serif, serif"  fill="#111" >3</text>
<rect x="157.2" y="779.1" width="6.6" height="6.6" fill="#0f3d74" stroke="#0a2a55" stroke-width="0.5"/>
<text x="166.1" y="779.6" font-size="8.2" text-anchor="middle" font-family="Liberation Serif, serif"  fill="#111" >8</text>
<rect x="181.7" y="774.4" width="6.6" height="6.6" fill="#0f3d74" stroke="#0a2a55" stroke-width="0.5"/>
<text x="190.5" y="774.7" font-size="8.2" text-anchor="middle" font-family="Liberation Serif, serif"  fill="#111" >2</text>
<text x="279.2" y="645.7" font-size="11.1" text-anchor="start" font-family="Liberation Serif, serif" font-weight="bold" fill="#000" >Experiments</text>
<circle cx="282.4" cy="656.1" r="4.1" fill="none" stroke="#d4405e" stroke-width="0.8"/>
<text x="289.6" y="659.5" font-size="9.4" text-anchor="start" font-family="Liberation Serif, serif"  fill="#000" >1. Flaying</text>
<circle cx="282.4" cy="667.3" r="4.1" fill="none" stroke="#efe050" stroke-width="0.8"/>
<text x="289.6" y="670.7" font-size="9.4" text-anchor="start" font-family="Liberation Serif, serif"  fill="#000" >2. Dry hide with sand</text>
<circle cx="282.4" cy="678.5" r="4.1" fill="none" stroke="#8ad6a3" stroke-width="0.8"/>
<text x="289.6" y="681.9" font-size="9.4" text-anchor="start" font-family="Liberation Serif, serif"  fill="#000" >3. Fresh hide with marrow</text>
<circle cx="282.4" cy="689.7" r="4.1" fill="none" stroke="#56a648" stroke-width="0.8"/>
<text x="289.6" y="693.1" font-size="9.4" text-anchor="start" font-family="Liberation Serif, serif"  fill="#000" >4. Fresh hide with ocher</text>
<circle cx="282.4" cy="700.9" r="4.1" fill="none" stroke="#74aeea" stroke-width="0.8"/>
<text x="289.6" y="704.3" font-size="9.4" text-anchor="start" font-family="Liberation Serif, serif"  fill="#000" >5. Fresh hide with sand</text>
<circle cx="282.4" cy="712.1" r="4.1" fill="none" stroke="#6f78c8" stroke-width="0.8"/>
<text x="289.6" y="715.5" font-size="9.4" text-anchor="start" font-family="Liberation Serif, serif"  fill="#000" >6. Wet hide with sand</text>
<circle cx="282.4" cy="723.3" r="4.1" fill="none" stroke="#b56fe6" stroke-width="0.8"/>
<text x="289.6" y="726.7" font-size="9.4" text-anchor="start" font-family="Liberation Serif, serif"  fill="#000" >7. Fresh meat</text>
<circle cx="282.4" cy="734.5" r="4.1" fill="none" stroke="#f0589f" stroke-width="0.8"/>
<text x="289.6" y="737.9" font-size="9.4" text-anchor="start" font-family="Liberation Serif, serif"  fill="#000" >8. Frozen meat</text>
<rect x="278.7" y="742.3" width="7.6" height="7.6" fill="#0f3d74" stroke="#0a2a55" stroke-width="0.5"/>
<text x="289.6" y="749.5" font-size="9.4" text-anchor="start" font-family="Liberation Serif, serif"  fill="#000" >Group Centroid</text>
<path d="M406.8 14.4L406.8 256.3L836.2 256.3" fill="none" stroke="#333" stroke-width="1.1"/>
<line x1="473.4" y1="256.3" x2="473.4" y2="258.8" stroke="#333" stroke-width="0.8"/>
<text x="473.4" y="267.9" font-size="8.3" text-anchor="middle" font-family="Liberation Sans, sans-serif"  fill="#4d4d4d" >-2.5</text>
<line x1="560.5" y1="256.3" x2="560.5" y2="258.8" stroke="#333" stroke-width="0.8"/>
<text x="560.5" y="267.9" font-size="8.3" text-anchor="middle" font-family="Liberation Sans, sans-serif"  fill="#4d4d4d" >0.0</text>
<line x1="647.6" y1="256.3" x2="647.6" y2="258.8" stroke="#333" stroke-width="0.8"/>
<text x="647.6" y="267.9" font-size="8.3" text-anchor="middle" font-family="Liberation Sans, sans-serif"  fill="#4d4d4d" >2.5</text>
<line x1="734.6" y1="256.3" x2="734.6" y2="258.8" stroke="#333" stroke-width="0.8"/>
<text x="734.6" y="267.9" font-size="8.3" text-anchor="middle" font-family="Liberation Sans, sans-serif"  fill="#4d4d4d" >5.0</text>
<line x1="821.7" y1="256.3" x2="821.7" y2="258.8" stroke="#333" stroke-width="0.8"/>
<text x="821.7" y="267.9" font-size="8.3" text-anchor="middle" font-family="Liberation Sans, sans-serif"  fill="#4d4d4d" >7.5</text>
<line x1="404.3" y1="38.0" x2="406.8" y2="38.0" stroke="#333" stroke-width="0.8"/>
<text x="401.4" y="41.5" font-size="8.3" text-anchor="end" font-family="Liberation Sans, sans-serif"  fill="#4d4d4d" >4</text>
<line x1="404.3" y1="106.6" x2="406.8" y2="106.6" stroke="#333" stroke-width="0.8"/>
<text x="401.4" y="110.1" font-size="8.3" text-anchor="end" font-family="Liberation Sans, sans-serif"  fill="#4d4d4d" >2</text>
<line x1="404.3" y1="175.2" x2="406.8" y2="175.2" stroke="#333" stroke-width="0.8"/>
<text x="401.4" y="178.7" font-size="8.3" text-anchor="end" font-family="Liberation Sans, sans-serif"  fill="#4d4d4d" >0</text>
<line x1="404.3" y1="243.8" x2="406.8" y2="243.8" stroke="#333" stroke-width="0.8"/>
<text x="401.4" y="247.3" font-size="8.3" text-anchor="end" font-family="Liberation Sans, sans-serif"  fill="#4d4d4d" >-2</text>
<text x="622.8" y="279.8" font-size="11.4" text-anchor="middle" font-family="Liberation Serif, serif" font-weight="bold" fill="#000" >PC1 (54.85%)</text>
<text transform="translate(389.5,142.0) rotate(-90)" font-size="11.4" text-anchor="middle" font-family="Liberation Serif, serif" font-weight="bold" fill="#000">PC2 (12.89%)</text>
<text x="388.0" y="23.5" font-size="24" text-anchor="start" font-family="Liberation Serif, serif"  fill="#000" >b</text>
<path d="M406.9 323.5L406.9 568.5L836 568.5" fill="none" stroke="#333" stroke-width="1.1"/>
<line x1="474.0" y1="568.5" x2="474.0" y2="571.0" stroke="#333" stroke-width="0.8"/>
<text x="474.0" y="580.9" font-size="8.3" text-anchor="middle" font-family="Liberation Sans, sans-serif"  fill="#4d4d4d" >-2.5</text>
<line x1="561.0" y1="568.5" x2="561.0" y2="571.0" stroke="#333" stroke-width="0.8"/>
<text x="561.0" y="580.9" font-size="8.3" text-anchor="middle" font-family="Liberation Sans, sans-serif"  fill="#4d4d4d" >0.0</text>
<line x1="648.0" y1="568.5" x2="648.0" y2="571.0" stroke="#333" stroke-width="0.8"/>
<text x="648.0" y="580.9" font-size="8.3" text-anchor="middle" font-family="Liberation Sans, sans-serif"  fill="#4d4d4d" >2.5</text>
<line x1="735.0" y1="568.5" x2="735.0" y2="571.0" stroke="#333" stroke-width="0.8"/>
<text x="735.0" y="580.9" font-size="8.3" text-anchor="middle" font-family="Liberation Sans, sans-serif"  fill="#4d4d4d" >5.0</text>
<line x1="822.0" y1="568.5" x2="822.0" y2="571.0" stroke="#333" stroke-width="0.8"/>
<text x="822.0" y="580.9" font-size="8.3" text-anchor="middle" font-family="Liberation Sans, sans-serif"  fill="#4d4d4d" >7.5</text>
<line x1="404.4" y1="347.4" x2="406.9" y2="347.4" stroke="#333" stroke-width="0.8"/>
<text x="401.5" y="350.9" font-size="8.3" text-anchor="end" font-family="Liberation Sans, sans-serif"  fill="#4d4d4d" >4</text>
<line x1="404.4" y1="417.2" x2="406.9" y2="417.2" stroke="#333" stroke-width="0.8"/>
<text x="401.5" y="420.7" font-size="8.3" text-anchor="end" font-family="Liberation Sans, sans-serif"  fill="#4d4d4d" >2</text>
<line x1="404.4" y1="487.0" x2="406.9" y2="487.0" stroke="#333" stroke-width="0.8"/>
<text x="401.5" y="490.5" font-size="8.3" text-anchor="end" font-family="Liberation Sans, sans-serif"  fill="#4d4d4d" >0</text>
<line x1="404.4" y1="556.8" x2="406.9" y2="556.8" stroke="#333" stroke-width="0.8"/>
<text x="401.5" y="560.3" font-size="8.3" text-anchor="end" font-family="Liberation Sans, sans-serif"  fill="#4d4d4d" >-2</text>
<text x="623.4" y="593.8" font-size="11.4" text-anchor="middle" font-family="Liberation Serif, serif" font-weight="bold" fill="#000" >PC1 (54.85%)</text>
<text transform="translate(389.5,458.3) rotate(-90)" font-size="11.4" text-anchor="middle" font-family="Liberation Serif, serif" font-weight="bold" fill="#000">PC2 (12.89%)</text>
<text x="388.0" y="332.2" font-size="24" text-anchor="start" font-family="Liberation Serif, serif"  fill="#000" >e</text>
<path d="M406.6 632.2L406.6 868.3L821.8 868.3" fill="none" stroke="#333" stroke-width="1.1"/>
<line x1="471.2" y1="868.3" x2="471.2" y2="870.8" stroke="#333" stroke-width="0.8"/>
<text x="471.2" y="881.0" font-size="8.3" text-anchor="middle" font-family="Liberation Sans, sans-serif"  fill="#4d4d4d" >-2.5</text>
<line x1="555.0" y1="868.3" x2="555.0" y2="870.8" stroke="#333" stroke-width="0.8"/>
<text x="555.0" y="881.0" font-size="8.3" text-anchor="middle" font-family="Liberation Sans, sans-serif"  fill="#4d4d4d" >0.0</text>
<line x1="638.8" y1="868.3" x2="638.8" y2="870.8" stroke="#333" stroke-width="0.8"/>
<text x="638.8" y="881.0" font-size="8.3" text-anchor="middle" font-family="Liberation Sans, sans-serif"  fill="#4d4d4d" >2.5</text>
<line x1="722.6" y1="868.3" x2="722.6" y2="870.8" stroke="#333" stroke-width="0.8"/>
<text x="722.6" y="881.0" font-size="8.3" text-anchor="middle" font-family="Liberation Sans, sans-serif"  fill="#4d4d4d" >5.0</text>
<line x1="806.4" y1="868.3" x2="806.4" y2="870.8" stroke="#333" stroke-width="0.8"/>
<text x="806.4" y="881.0" font-size="8.3" text-anchor="middle" font-family="Liberation Sans, sans-serif"  fill="#4d4d4d" >7.5</text>
<line x1="404.1" y1="654.7" x2="406.6" y2="654.7" stroke="#333" stroke-width="0.8"/>
<text x="401.2" y="658.2" font-size="8.3" text-anchor="end" font-family="Liberation Sans, sans-serif"  fill="#4d4d4d" >4</text>
<line x1="404.1" y1="721.7" x2="406.6" y2="721.7" stroke="#333" stroke-width="0.8"/>
<text x="401.2" y="725.2" font-size="8.3" text-anchor="end" font-family="Liberation Sans, sans-serif"  fill="#4d4d4d" >2</text>
<line x1="404.1" y1="788.7" x2="406.6" y2="788.7" stroke="#333" stroke-width="0.8"/>
<text x="401.2" y="792.2" font-size="8.3" text-anchor="end" font-family="Liberation Sans, sans-serif"  fill="#4d4d4d" >0</text>
<line x1="404.1" y1="855.7" x2="406.6" y2="855.7" stroke="#333" stroke-width="0.8"/>
<text x="401.2" y="859.2" font-size="8.3" text-anchor="end" font-family="Liberation Sans, sans-serif"  fill="#4d4d4d" >-2</text>
<text x="623.4" y="893.7" font-size="11.4" text-anchor="middle" font-family="Liberation Serif, serif" font-weight="bold" fill="#000" >PC1 (54.85%)</text>
<text transform="translate(389.5,760.8) rotate(-90)" font-size="11.4" text-anchor="middle" font-family="Liberation Serif, serif" font-weight="bold" fill="#000">PC2 (12.89%)</text>
<text x="387.5" y="649.6" font-size="24" text-anchor="start" font-family="Liberation Serif, serif"  fill="#000" >h</text>
<path d="M509.8 125.4L649.6 169.6L525.9 218.8L510.7 174.4Z" fill="#F8766D" fill-opacity="0.145" stroke="#F8766D" stroke-width="0.75" stroke-linejoin="round"/>
<path d="M425.3 163.2L439.0 143.4L459.8 113.3L548.8 98.0L721.1 93.9L818.6 112.9L675.7 244.4L532.2 239.6L441.4 192.9L428.4 173.6L425.5 169.0Z" fill="#00BA38" fill-opacity="0.145" stroke="#00BA38" stroke-width="0.75" stroke-linejoin="round"/>
<path d="M505.5 166.7L579.1 25.1L651.5 121.2L661.3 195.2L595.2 215.0L554.0 209.4Z" fill="#619CFF" fill-opacity="0.145" stroke="#619CFF" stroke-width="0.75" stroke-linejoin="round"/>
<path d="M509.8 122.8L512.4 125.4L509.8 128.0L507.2 125.4Z" fill="#F8766D" stroke="none" stroke-width="0"/>
<path d="M561.2 145.0L563.8 147.6L561.2 150.2L558.6 147.6Z" fill="#F8766D" stroke="none" stroke-width="0"/>
<path d="M510.7 171.8L513.3 174.4L510.7 177.0L508.1 174.4Z" fill="#F8766D" stroke="none" stroke-width="0"/>
<path d="M585.5 179.3L588.1 181.9L585.5 184.5L582.9 181.9Z" fill="#F8766D" stroke="none" stroke-width="0"/>
<path d="M525.9 216.2L528.5 218.8L525.9 221.4L523.3 218.8Z" fill="#F8766D" stroke="none" stroke-width="0"/>
<path d="M649.6 167.0L652.2 169.6L649.6 172.2L647.0 169.6Z" fill="#F8766D" stroke="none" stroke-width="0"/>
<path d="M621.5 171.3L624.1 173.9L621.5 176.5L618.9 173.9Z" fill="#F8766D" stroke="none" stroke-width="0"/>
<path d="M542.9 220.5L545.6 225.2L540.2 225.2Z" fill="#00BA38"/>
<path d="M572.5 222.1L575.2 226.8L569.8 226.8Z" fill="#00BA38"/>
<path d="M578.6 227.2L581.3 231.9L575.9 231.9Z" fill="#00BA38"/>
<path d="M606.8 220.4L609.5 225.1L604.1 225.1Z" fill="#00BA38"/>
<path d="M679.4 159.8L682.1 164.5L676.7 164.5Z" fill="#00BA38"/>
<path d="M684.6 162.9L687.3 167.5L681.9 167.5Z" fill="#00BA38"/>
<path d="M665.8 182.8L668.5 187.5L663.1 187.5Z" fill="#00BA38"/>
<path d="M612.7 187.4L615.4 192.1L610.0 192.1Z" fill="#00BA38"/>
<path d="M626.7 207.2L629.4 211.9L624.0 211.9Z" fill="#00BA38"/>
<path d="M623.2 211.5L625.9 216.2L620.5 216.2Z" fill="#00BA38"/>
<path d="M683.3 207.6L686.0 212.3L680.6 212.3Z" fill="#00BA38"/>
<path d="M626.7 222.1L629.4 226.8L624.0 226.8Z" fill="#00BA38"/>
<path d="M645.2 223.8L647.9 228.5L642.5 228.5Z" fill="#00BA38"/>
<path d="M618.9 227.2L621.6 231.9L616.2 231.9Z" fill="#00BA38"/>
<path d="M634.2 230.1L636.9 234.8L631.5 234.8Z" fill="#00BA38"/>
<path d="M675.7 241.7L678.4 246.4L673.0 246.4Z" fill="#00BA38"/>
<path d="M575.9 194.5L578.6 199.2L573.2 199.2Z" fill="#00BA38"/>
<path d="M519.9 122.4L522.6 127.1L517.2 127.1Z" fill="#00BA38"/>
<path d="M595.5 135.4L598.2 140.1L592.8 140.1Z" fill="#00BA38"/>
<path d="M577.7 195.1L580.4 199.8L575.0 199.8Z" fill="#00BA38"/>
<path d="M548.8 95.3L551.5 100.0L546.1 100.0Z" fill="#00BA38"/>
<path d="M608.2 145.3L610.9 150.0L605.5 150.0Z" fill="#00BA38"/>
<path d="M628.1 152.1L630.8 156.8L625.4 156.8Z" fill="#00BA38"/>
<path d="M603.8 161.8L606.5 166.5L601.1 166.5Z" fill="#00BA38"/>
<path d="M672.9 155.0L675.6 159.7L670.2 159.7Z" fill="#00BA38"/>
<path d="M706.4 147.0L709.1 151.7L703.7 151.7Z" fill="#00BA38"/>
<path d="M721.1 91.2L723.8 95.9L718.4 95.9Z" fill="#00BA38"/>
<path d="M701.5 98.5L704.2 103.2L698.8 103.2Z" fill="#00BA38"/>
<path d="M818.6 110.2L821.3 114.9L815.9 114.9Z" fill="#00BA38"/>
<path d="M467.6 128.6L470.3 133.2L464.9 133.2Z" fill="#00BA38"/>
<path d="M528.9 182.5L531.6 187.2L526.2 187.2Z" fill="#00BA38"/>
<path d="M543.9 185.7L546.6 190.4L541.2 190.4Z" fill="#00BA38"/>
<path d="M561.2 180.3L563.9 185.0L558.5 185.0Z" fill="#00BA38"/>
<path d="M554.0 199.0L556.7 203.7L551.3 203.7Z" fill="#00BA38"/>
<path d="M513.8 202.1L516.5 206.8L511.1 206.8Z" fill="#00BA38"/>
<path d="M499.9 220.2L502.6 224.9L497.2 224.9Z" fill="#00BA38"/>
<path d="M507.6 222.9L510.3 227.6L504.9 227.6Z" fill="#00BA38"/>
<path d="M532.2 236.9L534.9 241.6L529.5 241.6Z" fill="#00BA38"/>
<path d="M459.8 110.6L462.5 115.3L457.1 115.3Z" fill="#00BA38"/>
<path d="M452.5 135.9L455.2 140.6L449.8 140.6Z" fill="#00BA38"/>
<path d="M439.0 140.7L441.7 145.4L436.3 145.4Z" fill="#00BA38"/>
<path d="M470.0 138.4L472.7 143.1L467.3 143.1Z" fill="#00BA38"/>
<path d="M498.6 147.5L501.3 152.2L495.9 152.2Z" fill="#00BA38"/>
<path d="M451.5 155.5L454.2 160.2L448.8 160.2Z" fill="#00BA38"/>
<path d="M425.3 160.5L428.0 165.2L422.6 165.2Z" fill="#00BA38"/>
<path d="M459.1 163.7L461.8 168.4L456.4 168.4Z" fill="#00BA38"/>
<path d="M512.4 160.6L515.1 165.3L509.7 165.3Z" fill="#00BA38"/>
<path d="M498.2 170.2L500.9 174.9L495.5 174.9Z" fill="#00BA38"/>
<path d="M477.3 179.2L480.0 183.9L474.6 183.9Z" fill="#00BA38"/>
<path d="M472.6 186.7L475.3 191.4L469.9 191.4Z" fill="#00BA38"/>
<path d="M441.4 190.2L444.1 194.9L438.7 194.9Z" fill="#00BA38"/>
<path d="M507.2 189.3L509.9 194.0L504.5 194.0Z" fill="#00BA38"/>
<path d="M475.7 136.1L478.4 140.8L473.0 140.8Z" fill="#00BA38"/>
<path d="M481.2 138.8L483.9 143.5L478.5 143.5Z" fill="#00BA38"/>
<path d="M471.7 143.9L474.4 148.6L469.0 148.6Z" fill="#00BA38"/>
<path d="M496.8 162.9L499.5 167.5L494.1 167.5Z" fill="#00BA38"/>
<path d="M511.5 166.9L514.2 171.6L508.8 171.6Z" fill="#00BA38"/>
<path d="M425.5 166.3L428.2 171.0L422.8 171.0Z" fill="#00BA38"/>
<path d="M428.4 170.9L431.1 175.6L425.7 175.6Z" fill="#00BA38"/>
<path d="M470.8 173.4L473.5 178.1L468.1 178.1Z" fill="#00BA38"/>
<path d="M485.9 176.7L488.6 181.4L483.2 181.4Z" fill="#00BA38"/>
<path d="M472.6 190.5L475.3 195.2L469.9 195.2Z" fill="#00BA38"/>
<path d="M462.2 193.1L464.9 197.8L459.5 197.8Z" fill="#00BA38"/>
<path d="M573.0 190.0L575.7 194.7L570.3 194.7Z" fill="#00BA38"/>
<path d="M543.2 203.0L545.9 207.7L540.5 207.7Z" fill="#00BA38"/>
<path d="M579.1 22.8L581.4 25.1L579.1 27.4L576.8 25.1Z" fill="#619CFF" stroke="none" stroke-width="0"/>
<path d="M605.4 113.8L607.7 116.1L605.4 118.4L603.1 116.1Z" fill="#619CFF" stroke="none" stroke-width="0"/>
<path d="M505.5 164.4L507.8 166.7L505.5 169.0L503.2 166.7Z" fill="#619CFF" stroke="none" stroke-width="0"/>
<path d="M604.2 169.6L606.5 171.9L604.2 174.2L601.9 171.9Z" fill="#619CFF" stroke="none" stroke-width="0"/>
<path d="M545.8 193.3L548.1 195.6L545.8 197.9L543.5 195.6Z" fill="#619CFF" stroke="none" stroke-width="0"/>
<path d="M651.5 118.9L653.8 121.2L651.5 123.5L649.2 121.2Z" fill="#619CFF" stroke="none" stroke-width="0"/>
<path d="M648.7 152.0L651.0 154.3L648.7 156.6L646.4 154.3Z" fill="#619CFF" stroke="none" stroke-width="0"/>
<path d="M631.9 180.3L634.2 182.6L631.9 184.9L629.6 182.6Z" fill="#619CFF" stroke="none" stroke-width="0"/>
<path d="M567.5 174.7L569.8 177.0L567.5 179.3L565.2 177.0Z" fill="#619CFF" stroke="none" stroke-width="0"/>
<path d="M580.6 205.1L582.9 207.4L580.6 209.7L578.3 207.4Z" fill="#619CFF" stroke="none" stroke-width="0"/>
<path d="M595.2 212.7L597.5 215.0L595.2 217.3L592.9 215.0Z" fill="#619CFF" stroke="none" stroke-width="0"/>
<path d="M554.0 207.1L556.3 209.4L554.0 211.7L551.7 209.4Z" fill="#619CFF" stroke="none" stroke-width="0"/>
<path d="M661.3 192.9L663.6 195.2L661.3 197.5L659.0 195.2Z" fill="#619CFF" stroke="none" stroke-width="0"/>
<path d="M543.5 535.9L576.4 509.4L679.9 474.1L685.0 477.2L683.8 522.7L676.2 557.4L579.1 542.6Z" fill="#F8766D" fill-opacity="0.145" stroke="#F8766D" stroke-width="0.75" stroke-linejoin="round"/>
<path d="M426.0 474.8L439.7 454.6L460.4 424.1L579.7 334.3L819.0 423.6L532.8 552.5L442.1 505.0Z" fill="#7CAE00" fill-opacity="0.145" stroke="#7CAE00" stroke-width="0.75" stroke-linejoin="round"/>
<path d="M554.6 521.8L568.1 488.8L661.9 507.4L595.8 527.5Z" fill="#00BFC4" fill-opacity="0.145" stroke="#00BFC4" stroke-width="0.75" stroke-linejoin="round"/>
<path d="M426.2 480.7L476.4 449.9L481.9 452.7L573.6 504.8L543.9 518.0L462.9 507.9L429.1 485.3Z" fill="#C77CFF" fill-opacity="0.145" stroke="#C77CFF" stroke-width="0.75" stroke-linejoin="round"/>
<path d="M543.5 533.3L546.1 535.9L543.5 538.5L540.9 535.9Z" fill="#F8766D" stroke="none" stroke-width="0"/>
<path d="M573.1 534.8L575.7 537.4L573.1 540.0L570.5 537.4Z" fill="#F8766D" stroke="none" stroke-width="0"/>
<path d="M579.1 540.0L581.7 542.6L579.1 545.2L576.5 542.6Z" fill="#F8766D" stroke="none" stroke-width="0"/>
<path d="M607.4 533.1L610.0 535.7L607.4 538.3L604.8 535.7Z" fill="#F8766D" stroke="none" stroke-width="0"/>
<path d="M679.9 471.5L682.5 474.1L679.9 476.7L677.3 474.1Z" fill="#F8766D" stroke="none" stroke-width="0"/>
<path d="M685.0 474.6L687.6 477.2L685.0 479.8L682.4 477.2Z" fill="#F8766D" stroke="none" stroke-width="0"/>
<path d="M666.4 494.9L669.0 497.5L666.4 500.1L663.8 497.5Z" fill="#F8766D" stroke="none" stroke-width="0"/>
<path d="M613.2 499.6L615.8 502.2L613.2 504.8L610.6 502.2Z" fill="#F8766D" stroke="none" stroke-width="0"/>
<path d="M627.3 519.7L629.9 522.3L627.3 524.9L624.7 522.3Z" fill="#F8766D" stroke="none" stroke-width="0"/>
<path d="M623.8 524.1L626.4 526.7L623.8 529.3L621.2 526.7Z" fill="#F8766D" stroke="none" stroke-width="0"/>
<path d="M683.8 520.1L686.4 522.7L683.8 525.3L681.2 522.7Z" fill="#F8766D" stroke="none" stroke-width="0"/>
<path d="M627.3 534.8L629.9 537.4L627.3 540.0L624.7 537.4Z" fill="#F8766D" stroke="none" stroke-width="0"/>
<path d="M645.8 536.6L648.4 539.2L645.8 541.8L643.2 539.2Z" fill="#F8766D" stroke="none" stroke-width="0"/>
<path d="M619.5 540.0L622.1 542.6L619.5 545.2L616.9 542.6Z" fill="#F8766D" stroke="none" stroke-width="0"/>
<path d="M634.7 543.0L637.3 545.6L634.7 548.2L632.1 545.6Z" fill="#F8766D" stroke="none" stroke-width="0"/>
<path d="M676.2 554.8L678.8 557.4L676.2 560.0L673.6 557.4Z" fill="#F8766D" stroke="none" stroke-width="0"/>
<path d="M576.4 506.8L579.0 509.4L576.4 512.0L573.8 509.4Z" fill="#F8766D" stroke="none" stroke-width="0"/>
<path d="M510.5 433.7L513.2 438.4L507.8 438.4Z" fill="#7CAE00"/>
<path d="M561.8 456.3L564.5 461.0L559.1 461.0Z" fill="#7CAE00"/>
<path d="M511.3 483.5L514.0 488.2L508.6 488.2Z" fill="#7CAE00"/>
<path d="M586.1 491.2L588.8 495.9L583.4 495.9Z" fill="#7CAE00"/>
<path d="M526.5 528.7L529.2 533.4L523.8 533.4Z" fill="#7CAE00"/>
<path d="M650.1 478.7L652.8 483.4L647.4 483.4Z" fill="#7CAE00"/>
<path d="M622.1 483.0L624.8 487.7L619.4 487.7Z" fill="#7CAE00"/>
<path d="M520.5 433.3L523.2 438.0L517.8 438.0Z" fill="#7CAE00"/>
<path d="M596.1 446.5L598.8 451.2L593.4 451.2Z" fill="#7CAE00"/>
<path d="M578.3 507.3L581.0 512.0L575.6 512.0Z" fill="#7CAE00"/>
<path d="M549.4 405.7L552.1 410.4L546.7 410.4Z" fill="#7CAE00"/>
<path d="M608.7 456.6L611.4 461.3L606.0 461.3Z" fill="#7CAE00"/>
<path d="M628.6 463.6L631.3 468.2L625.9 468.2Z" fill="#7CAE00"/>
<path d="M604.4 473.4L607.1 478.1L601.7 478.1Z" fill="#7CAE00"/>
<path d="M673.5 466.5L676.2 471.2L670.8 471.2Z" fill="#7CAE00"/>
<path d="M706.8 458.3L709.5 463.0L704.1 463.0Z" fill="#7CAE00"/>
<path d="M721.6 401.6L724.3 406.3L718.9 406.3Z" fill="#7CAE00"/>
<path d="M702.0 409.0L704.7 413.7L699.3 413.7Z" fill="#7CAE00"/>
<path d="M819.0 420.9L821.7 425.6L816.3 425.6Z" fill="#7CAE00"/>
<path d="M468.2 439.6L470.9 444.3L465.5 444.3Z" fill="#7CAE00"/>
<path d="M529.5 494.5L532.2 499.2L526.8 499.2Z" fill="#7CAE00"/>
<path d="M544.5 497.8L547.2 502.5L541.8 502.5Z" fill="#7CAE00"/>
<path d="M561.8 492.2L564.5 496.9L559.1 496.9Z" fill="#7CAE00"/>
<path d="M554.6 511.3L557.3 516.0L551.9 516.0Z" fill="#7CAE00"/>
<path d="M514.4 514.4L517.1 519.1L511.7 519.1Z" fill="#7CAE00"/>
<path d="M500.6 532.8L503.3 537.5L497.9 537.5Z" fill="#7CAE00"/>
<path d="M508.2 535.6L510.9 540.3L505.5 540.3Z" fill="#7CAE00"/>
<path d="M532.8 549.8L535.5 554.5L530.1 554.5Z" fill="#7CAE00"/>
<path d="M460.4 421.4L463.1 426.1L457.7 426.1Z" fill="#7CAE00"/>
<path d="M453.2 447.1L455.9 451.8L450.5 451.8Z" fill="#7CAE00"/>
<path d="M439.7 451.9L442.4 456.6L437.0 456.6Z" fill="#7CAE00"/>
<path d="M470.7 449.7L473.4 454.4L468.0 454.4Z" fill="#7CAE00"/>
<path d="M499.2 458.9L501.9 463.6L496.5 463.6Z" fill="#7CAE00"/>
<path d="M452.1 467.0L454.8 471.7L449.4 471.7Z" fill="#7CAE00"/>
<path d="M426.0 472.1L428.7 476.8L423.3 476.8Z" fill="#7CAE00"/>
<path d="M459.8 475.4L462.5 480.1L457.1 480.1Z" fill="#7CAE00"/>
<path d="M513.1 472.2L515.8 476.9L510.4 476.9Z" fill="#7CAE00"/>
<path d="M498.9 482.0L501.6 486.7L496.2 486.7Z" fill="#7CAE00"/>
<path d="M477.9 491.2L480.6 495.9L475.2 495.9Z" fill="#7CAE00"/>
<path d="M473.3 498.8L476.0 503.5L470.6 503.5Z" fill="#7CAE00"/>
<path d="M442.1 502.3L444.8 507.0L439.4 507.0Z" fill="#7CAE00"/>
<path d="M507.9 501.4L510.6 506.1L505.2 506.1Z" fill="#7CAE00"/>
<path d="M579.7 331.6L582.4 336.3L577.0 336.3Z" fill="#7CAE00"/>
<path d="M606.0 424.1L608.7 428.8L603.3 428.8Z" fill="#7CAE00"/>
<path d="M506.1 475.7L508.8 480.4L503.4 480.4Z" fill="#7CAE00"/>
<path d="M604.8 480.9L607.5 485.6L602.1 485.6Z" fill="#7CAE00"/>
<path d="M546.4 505.0L549.1 509.7L543.7 509.7Z" fill="#7CAE00"/>
<path d="M652.0 429.3L654.7 434.0L649.3 434.0Z" fill="#7CAE00"/>
<path d="M649.2 463.0L651.9 467.7L646.5 467.7Z" fill="#7CAE00"/>
<path d="M632.4 491.9L635.1 496.6L629.7 496.6Z" fill="#7CAE00"/>
<path d="M568.1 486.5L570.4 488.8L568.1 491.1L565.8 488.8Z" fill="#00BFC4" stroke="none" stroke-width="0"/>
<path d="M581.2 517.4L583.5 519.7L581.2 522.0L578.9 519.7Z" fill="#00BFC4" stroke="none" stroke-width="0"/>
<path d="M595.8 525.2L598.1 527.5L595.8 529.8L593.5 527.5Z" fill="#00BFC4" stroke="none" stroke-width="0"/>
<path d="M554.6 519.5L556.9 521.8L554.6 524.1L552.3 521.8Z" fill="#00BFC4" stroke="none" stroke-width="0"/>
<path d="M661.9 505.1L664.2 507.4L661.9 509.7L659.6 507.4Z" fill="#00BFC4" stroke="none" stroke-width="0"/>
<path d="M476.4 447.3L479.0 449.9L476.4 452.5L473.8 449.9Z" fill="#C77CFF" stroke="none" stroke-width="0"/>
<path d="M481.9 450.1L484.5 452.7L481.9 455.3L479.3 452.7Z" fill="#C77CFF" stroke="none" stroke-width="0"/>
<path d="M472.4 455.3L475.0 457.9L472.4 460.5L469.8 457.9Z" fill="#C77CFF" stroke="none" stroke-width="0"/>
<path d="M497.5 474.6L500.1 477.2L497.5 479.8L494.9 477.2Z" fill="#C77CFF" stroke="none" stroke-width="0"/>
<path d="M512.2 478.8L514.8 481.4L512.2 484.0L509.6 481.4Z" fill="#C77CFF" stroke="none" stroke-width="0"/>
<path d="M426.2 478.1L428.8 480.7L426.2 483.3L423.6 480.7Z" fill="#C77CFF" stroke="none" stroke-width="0"/>
<path d="M429.1 482.7L431.7 485.3L429.1 487.9L426.5 485.3Z" fill="#C77CFF" stroke="none" stroke-width="0"/>
<path d="M471.5 485.4L474.1 488.0L471.5 490.6L468.9 488.0Z" fill="#C77CFF" stroke="none" stroke-width="0"/>
<path d="M486.6 488.7L489.2 491.3L486.6 493.9L484.0 491.3Z" fill="#C77CFF" stroke="none" stroke-width="0"/>
<path d="M473.3 502.7L475.9 505.3L473.3 507.9L470.7 505.3Z" fill="#C77CFF" stroke="none" stroke-width="0"/>
<path d="M462.9 505.3L465.5 507.9L462.9 510.5L460.3 507.9Z" fill="#C77CFF" stroke="none" stroke-width="0"/>
<path d="M573.6 502.2L576.2 504.8L573.6 507.4L571.0 504.8Z" fill="#C77CFF" stroke="none" stroke-width="0"/>
<path d="M543.9 515.4L546.5 518.0L543.9 520.6L541.3 518.0Z" fill="#C77CFF" stroke="none" stroke-width="0"/>
<path d="M505.8 740.5L640.3 783.7L521.3 831.7L506.7 788.3Z" fill="#F8766D" fill-opacity="0.145" stroke="#F8766D" stroke-width="0.75" stroke-linejoin="round"/>
<path d="M537.7 836.0L569.4 810.6L669.0 776.7L674.0 779.7L672.8 823.3L665.5 856.7L572.0 842.5Z" fill="#CD9600" fill-opacity="0.145" stroke="#CD9600" stroke-width="0.75" stroke-linejoin="round"/>
<path d="M515.5 740.2L543.3 713.7L709.2 709.7L803.0 728.2L571.2 811.2Z" fill="#7CAE00" fill-opacity="0.145" stroke="#7CAE00" stroke-width="0.75" stroke-linejoin="round"/>
<path d="M465.2 746.2L555.3 796.7L548.3 815.0L527.3 852.0L496.3 835.7Z" fill="#00BE67" fill-opacity="0.145" stroke="#00BE67" stroke-width="0.75" stroke-linejoin="round"/>
<path d="M424.5 777.3L437.7 758.0L457.7 728.7L508.3 777.5L503.3 805.5L440.0 806.3Z" fill="#00BFC4" fill-opacity="0.145" stroke="#00BFC4" stroke-width="0.75" stroke-linejoin="round"/>
<path d="M424.7 783.0L473.0 753.5L478.3 756.2L566.7 806.2L538.0 818.8L460.0 809.2L427.5 787.5Z" fill="#00A9FF" fill-opacity="0.145" stroke="#00A9FF" stroke-width="0.75" stroke-linejoin="round"/>
<path d="M501.7 780.8L572.5 642.5L642.2 736.3L639.5 768.7L623.3 796.3L540.5 809.0Z" fill="#C77CFF" fill-opacity="0.145" stroke="#C77CFF" stroke-width="0.75" stroke-linejoin="round"/>
<path d="M548.3 822.5L561.3 790.8L651.7 808.7L588.0 828.0Z" fill="#FF61CC" fill-opacity="0.145" stroke="#FF61CC" stroke-width="0.75" stroke-linejoin="round"/>
<path d="M505.8 737.9L508.4 740.5L505.8 743.1L503.2 740.5Z" fill="#F8766D" stroke="none" stroke-width="0"/>
<path d="M555.3 759.6L557.9 762.2L555.3 764.8L552.7 762.2Z" fill="#F8766D" stroke="none" stroke-width="0"/>
<path d="M506.7 785.7L509.3 788.3L506.7 790.9L504.1 788.3Z" fill="#F8766D" stroke="none" stroke-width="0"/>
<path d="M578.7 793.1L581.3 795.7L578.7 798.3L576.1 795.7Z" fill="#F8766D" stroke="none" stroke-width="0"/>
<path d="M521.3 829.1L523.9 831.7L521.3 834.3L518.7 831.7Z" fill="#F8766D" stroke="none" stroke-width="0"/>
<path d="M640.3 781.1L642.9 783.7L640.3 786.3L637.7 783.7Z" fill="#F8766D" stroke="none" stroke-width="0"/>
<path d="M613.3 785.2L615.9 787.8L613.3 790.4L610.7 787.8Z" fill="#F8766D" stroke="none" stroke-width="0"/>
<path d="M537.7 833.3L540.4 838.0L535.0 838.0Z" fill="#CD9600"/>
<path d="M566.2 834.8L568.9 839.5L563.5 839.5Z" fill="#CD9600"/>
<path d="M572.0 839.8L574.7 844.5L569.3 844.5Z" fill="#CD9600"/>
<path d="M599.2 833.1L601.9 837.8L596.5 837.8Z" fill="#CD9600"/>
<path d="M669.0 774.0L671.7 778.7L666.3 778.7Z" fill="#CD9600"/>
<path d="M674.0 777.0L676.7 781.7L671.3 781.7Z" fill="#CD9600"/>
<path d="M656.0 796.5L658.7 801.2L653.3 801.2Z" fill="#CD9600"/>
<path d="M604.8 801.0L607.5 805.7L602.1 805.7Z" fill="#CD9600"/>
<path d="M618.3 820.3L621.0 825.0L615.6 825.0Z" fill="#CD9600"/>
<path d="M615.0 824.5L617.7 829.2L612.3 829.2Z" fill="#CD9600"/>
<path d="M672.8 820.6L675.5 825.3L670.1 825.3Z" fill="#CD9600"/>
<path d="M618.3 834.8L621.0 839.5L615.6 839.5Z" fill="#CD9600"/>
<path d="M636.2 836.5L638.9 841.2L633.5 841.2Z" fill="#CD9600"/>
<path d="M610.8 839.8L613.5 844.5L608.1 844.5Z" fill="#CD9600"/>
<path d="M625.5 842.6L628.2 847.3L622.8 847.3Z" fill="#CD9600"/>
<path d="M665.5 854.0L668.2 858.7L662.8 858.7Z" fill="#CD9600"/>
<path d="M569.4 807.9L572.1 812.6L566.7 812.6Z" fill="#CD9600"/>
<path d="M515.5 738.3L517.4 740.2L515.5 742.1L513.6 740.2Z" fill="#7CAE00" stroke="none" stroke-width="0"/>
<path d="M588.3 750.9L590.2 752.8L588.3 754.7L586.4 752.8Z" fill="#7CAE00" stroke="none" stroke-width="0"/>
<path d="M571.2 809.3L573.1 811.2L571.2 813.1L569.3 811.2Z" fill="#7CAE00" stroke="none" stroke-width="0"/>
<path d="M543.3 711.8L545.2 713.7L543.3 715.6L541.4 713.7Z" fill="#7CAE00" stroke="none" stroke-width="0"/>
<path d="M600.5 760.6L602.4 762.5L600.5 764.4L598.6 762.5Z" fill="#7CAE00" stroke="none" stroke-width="0"/>
<path d="M619.7 767.3L621.6 769.2L619.7 771.1L617.8 769.2Z" fill="#7CAE00" stroke="none" stroke-width="0"/>
<path d="M596.3 776.8L598.2 778.7L596.3 780.6L594.4 778.7Z" fill="#7CAE00" stroke="none" stroke-width="0"/>
<path d="M662.8 770.1L664.7 772.0L662.8 773.9L660.9 772.0Z" fill="#7CAE00" stroke="none" stroke-width="0"/>
<path d="M695.0 762.3L696.9 764.2L695.0 766.1L693.1 764.2Z" fill="#7CAE00" stroke="none" stroke-width="0"/>
<path d="M709.2 707.8L711.1 709.7L709.2 711.6L707.3 709.7Z" fill="#7CAE00" stroke="none" stroke-width="0"/>
<path d="M690.3 714.9L692.2 716.8L690.3 718.7L688.4 716.8Z" fill="#7CAE00" stroke="none" stroke-width="0"/>
<path d="M803.0 726.3L804.9 728.2L803.0 730.1L801.1 728.2Z" fill="#7CAE00" stroke="none" stroke-width="0"/>
<path d="M465.2 743.5L467.9 746.2L465.2 748.9L462.5 746.2Z" fill="#00BE67" stroke="none" stroke-width="0"/>
<path d="M524.2 796.1L526.9 798.8L524.2 801.5L521.5 798.8Z" fill="#00BE67" stroke="none" stroke-width="0"/>
<path d="M538.7 799.3L541.4 802.0L538.7 804.7L536.0 802.0Z" fill="#00BE67" stroke="none" stroke-width="0"/>
<path d="M555.3 794.0L558.0 796.7L555.3 799.4L552.6 796.7Z" fill="#00BE67" stroke="none" stroke-width="0"/>
<path d="M548.3 812.3L551.0 815.0L548.3 817.7L545.6 815.0Z" fill="#00BE67" stroke="none" stroke-width="0"/>
<path d="M509.7 815.3L512.4 818.0L509.7 820.7L507.0 818.0Z" fill="#00BE67" stroke="none" stroke-width="0"/>
<path d="M496.3 833.0L499.0 835.7L496.3 838.4L493.6 835.7Z" fill="#00BE67" stroke="none" stroke-width="0"/>
<path d="M503.7 835.6L506.4 838.3L503.7 841.0L501.0 838.3Z" fill="#00BE67" stroke="none" stroke-width="0"/>
<path d="M527.3 849.3L530.0 852.0L527.3 854.7L524.6 852.0Z" fill="#00BE67" stroke="none" stroke-width="0"/>
<circle cx="457.7" cy="728.7" r="1.6" fill="#00BFC4" stroke="none" stroke-width="0"/>
<circle cx="450.7" cy="753.3" r="1.6" fill="#00BFC4" stroke="none" stroke-width="0"/>
<circle cx="437.7" cy="758.0" r="1.6" fill="#00BFC4" stroke="none" stroke-width="0"/>
<circle cx="467.5" cy="755.8" r="1.6" fill="#00BFC4" stroke="none" stroke-width="0"/>
<circle cx="495.0" cy="764.7" r="1.6" fill="#00BFC4" stroke="none" stroke-width="0"/>
<circle cx="449.7" cy="772.5" r="1.6" fill="#00BFC4" stroke="none" stroke-width="0"/>
<circle cx="424.5" cy="777.3" r="1.6" fill="#00BFC4" stroke="none" stroke-width="0"/>
<circle cx="457.0" cy="780.5" r="1.6" fill="#00BFC4" stroke="none" stroke-width="0"/>
<circle cx="508.3" cy="777.5" r="1.6" fill="#00BFC4" stroke="none" stroke-width="0"/>
<circle cx="494.7" cy="786.8" r="1.6" fill="#00BFC4" stroke="none" stroke-width="0"/>
<circle cx="474.5" cy="795.7" r="1.6" fill="#00BFC4" stroke="none" stroke-width="0"/>
<circle cx="470.0" cy="803.0" r="1.6" fill="#00BFC4" stroke="none" stroke-width="0"/>
<circle cx="440.0" cy="806.3" r="1.6" fill="#00BFC4" stroke="none" stroke-width="0"/>
<circle cx="503.3" cy="805.5" r="1.6" fill="#00BFC4" stroke="none" stroke-width="0"/>
<path d="M473.0 751.0L475.5 753.5L473.0 756.0L470.5 753.5Z" fill="none" stroke="#00A9FF" stroke-width="0.8"/>
<path d="M478.3 753.7L480.8 756.2L478.3 758.7L475.8 756.2Z" fill="none" stroke="#00A9FF" stroke-width="0.8"/>
<path d="M469.2 758.7L471.7 761.2L469.2 763.7L466.7 761.2Z" fill="none" stroke="#00A9FF" stroke-width="0.8"/>
<path d="M493.3 777.2L495.8 779.7L493.3 782.2L490.8 779.7Z" fill="none" stroke="#00A9FF" stroke-width="0.8"/>
<path d="M507.5 781.2L510.0 783.7L507.5 786.2L505.0 783.7Z" fill="none" stroke="#00A9FF" stroke-width="0.8"/>
<path d="M424.7 780.5L427.2 783.0L424.7 785.5L422.2 783.0Z" fill="none" stroke="#00A9FF" stroke-width="0.8"/>
<path d="M427.5 785.0L430.0 787.5L427.5 790.0L425.0 787.5Z" fill="none" stroke="#00A9FF" stroke-width="0.8"/>
<path d="M468.3 787.5L470.8 790.0L468.3 792.5L465.8 790.0Z" fill="none" stroke="#00A9FF" stroke-width="0.8"/>
<path d="M482.8 790.7L485.3 793.2L482.8 795.7L480.3 793.2Z" fill="none" stroke="#00A9FF" stroke-width="0.8"/>
<path d="M470.0 804.2L472.5 806.7L470.0 809.2L467.5 806.7Z" fill="none" stroke="#00A9FF" stroke-width="0.8"/>
<path d="M460.0 806.7L462.5 809.2L460.0 811.7L457.5 809.2Z" fill="none" stroke="#00A9FF" stroke-width="0.8"/>
<path d="M566.7 803.7L569.2 806.2L566.7 808.7L564.2 806.2Z" fill="none" stroke="#00A9FF" stroke-width="0.8"/>
<path d="M538.0 816.3L540.5 818.8L538.0 821.3L535.5 818.8Z" fill="none" stroke="#00A9FF" stroke-width="0.8"/>
<rect x="570.3" y="640.3" width="4.4" height="4.4" fill="none" stroke="#C77CFF" stroke-width="0.8"/>
<rect x="595.6" y="729.1" width="4.4" height="4.4" fill="none" stroke="#C77CFF" stroke-width="0.8"/>
<rect x="499.5" y="778.6" width="4.4" height="4.4" fill="none" stroke="#C77CFF" stroke-width="0.8"/>
<rect x="594.5" y="783.6" width="4.4" height="4.4" fill="none" stroke="#C77CFF" stroke-width="0.8"/>
<rect x="538.3" y="806.8" width="4.4" height="4.4" fill="none" stroke="#C77CFF" stroke-width="0.8"/>
<rect x="640.0" y="734.1" width="4.4" height="4.4" fill="none" stroke="#C77CFF" stroke-width="0.8"/>
<rect x="637.3" y="766.5" width="4.4" height="4.4" fill="none" stroke="#C77CFF" stroke-width="0.8"/>
<rect x="621.1" y="794.1" width="4.4" height="4.4" fill="none" stroke="#C77CFF" stroke-width="0.8"/>
<path d="M561.3 787.9L564.2 790.8L561.3 793.7L558.4 790.8Z" fill="none" stroke="#FF61CC" stroke-width="0.8"/>
<path d="M574.0 817.6L576.9 820.5L574.0 823.4L571.1 820.5Z" fill="none" stroke="#FF61CC" stroke-width="0.8"/>
<path d="M588.0 825.1L590.9 828.0L588.0 830.9L585.1 828.0Z" fill="none" stroke="#FF61CC" stroke-width="0.8"/>
<path d="M548.3 819.6L551.2 822.5L548.3 825.4L545.4 822.5Z" fill="none" stroke="#FF61CC" stroke-width="0.8"/>
<path d="M651.7 805.8L654.6 808.7L651.7 811.6L648.8 808.7Z" fill="none" stroke="#FF61CC" stroke-width="0.8"/>
<path d="M870.7 12.7L870.7 255.3L1122.7 255.3" fill="none" stroke="#333" stroke-width="1.1"/>
<line x1="895.4" y1="255.3" x2="895.4" y2="257.8" stroke="#333" stroke-width="0.8"/>
<text x="895.4" y="264.8" font-size="6.7" text-anchor="middle" font-family="Liberation Sans, sans-serif"  fill="#4d4d4d" >-4</text>
<line x1="967.0" y1="255.3" x2="967.0" y2="257.8" stroke="#333" stroke-width="0.8"/>
<text x="967.0" y="264.8" font-size="6.7" text-anchor="middle" font-family="Liberation Sans, sans-serif"  fill="#4d4d4d" >-2</text>
<line x1="1038.7" y1="255.3" x2="1038.7" y2="257.8" stroke="#333" stroke-width="0.8"/>
<text x="1038.7" y="264.8" font-size="6.7" text-anchor="middle" font-family="Liberation Sans, sans-serif"  fill="#4d4d4d" >0</text>
<line x1="1110.4" y1="255.3" x2="1110.4" y2="257.8" stroke="#333" stroke-width="0.8"/>
<text x="1110.4" y="264.8" font-size="6.7" text-anchor="middle" font-family="Liberation Sans, sans-serif"  fill="#4d4d4d" >2</text>
<line x1="868.2" y1="64.5" x2="870.7" y2="64.5" stroke="#333" stroke-width="0.8"/>
<text x="865.9" y="67.3" font-size="6.7" text-anchor="end" font-family="Liberation Sans, sans-serif"  fill="#4d4d4d" >2</text>
<line x1="868.2" y1="136.3" x2="870.7" y2="136.3" stroke="#333" stroke-width="0.8"/>
<text x="865.9" y="139.1" font-size="6.7" text-anchor="end" font-family="Liberation Sans, sans-serif"  fill="#4d4d4d" >0</text>
<line x1="868.2" y1="208.1" x2="870.7" y2="208.1" stroke="#333" stroke-width="0.8"/>
<text x="865.9" y="210.9" font-size="6.7" text-anchor="end" font-family="Liberation Sans, sans-serif"  fill="#4d4d4d" >-2</text>
<text x="1004.8" y="280.0" font-size="11.4" text-anchor="middle" font-family="Liberation Serif, serif" font-weight="bold" fill="#000" >PC2 (12.89%)</text>
<text transform="translate(856.0,142.2) rotate(-90)" font-size="11.4" text-anchor="middle" font-family="Liberation Serif, serif" font-weight="bold" fill="#000">PC3 (11.65%)</text>
<text x="850.5" y="22.7" font-size="24" text-anchor="start" font-family="Liberation Serif, serif"  fill="#000" ><tspan font-weight="bold">c</tspan></text>
<path d="M870.7 323.3L870.7 568.8L1126 568.8" fill="none" stroke="#333" stroke-width="1.1"/>
<line x1="894.9" y1="568.8" x2="894.9" y2="571.3" stroke="#333" stroke-width="0.8"/>
<text x="894.9" y="578.4" font-size="6.7" text-anchor="middle" font-family="Liberation Sans, sans-serif"  fill="#4d4d4d" >-4</text>
<line x1="967.3" y1="568.8" x2="967.3" y2="571.3" stroke="#333" stroke-width="0.8"/>
<text x="967.3" y="578.4" font-size="6.7" text-anchor="middle" font-family="Liberation Sans, sans-serif"  fill="#4d4d4d" >-2</text>
<line x1="1039.7" y1="568.8" x2="1039.7" y2="571.3" stroke="#333" stroke-width="0.8"/>
<text x="1039.7" y="578.4" font-size="6.7" text-anchor="middle" font-family="Liberation Sans, sans-serif"  fill="#4d4d4d" >0</text>
<line x1="1112.1" y1="568.8" x2="1112.1" y2="571.3" stroke="#333" stroke-width="0.8"/>
<text x="1112.1" y="578.4" font-size="6.7" text-anchor="middle" font-family="Liberation Sans, sans-serif"  fill="#4d4d4d" >2</text>
<line x1="868.2" y1="375.8" x2="870.7" y2="375.8" stroke="#333" stroke-width="0.8"/>
<text x="865.9" y="378.6" font-size="6.7" text-anchor="end" font-family="Liberation Sans, sans-serif"  fill="#4d4d4d" >2</text>
<line x1="868.2" y1="448.3" x2="870.7" y2="448.3" stroke="#333" stroke-width="0.8"/>
<text x="865.9" y="451.1" font-size="6.7" text-anchor="end" font-family="Liberation Sans, sans-serif"  fill="#4d4d4d" >0</text>
<line x1="868.2" y1="520.8" x2="870.7" y2="520.8" stroke="#333" stroke-width="0.8"/>
<text x="865.9" y="523.6" font-size="6.7" text-anchor="end" font-family="Liberation Sans, sans-serif"  fill="#4d4d4d" >-2</text>
<text x="1005.2" y="593.3" font-size="11.4" text-anchor="middle" font-family="Liberation Serif, serif" font-weight="bold" fill="#000" >PC2 (12.89%)</text>
<text transform="translate(856.0,459.0) rotate(-90)" font-size="11.4" text-anchor="middle" font-family="Liberation Serif, serif" font-weight="bold" fill="#000">PC3 (11.65%)</text>
<text x="848.0" y="336.0" font-size="24" text-anchor="start" font-family="Liberation Serif, serif"  fill="#000" >f</text>
<path d="M870.7 631.7L870.7 869.4L1117 869.4" fill="none" stroke="#333" stroke-width="1.1"/>
<line x1="893.8" y1="869.4" x2="893.8" y2="871.9" stroke="#333" stroke-width="0.8"/>
<text x="893.8" y="878.8" font-size="6.7" text-anchor="middle" font-family="Liberation Sans, sans-serif"  fill="#4d4d4d" >-4</text>
<line x1="964.0" y1="869.4" x2="964.0" y2="871.9" stroke="#333" stroke-width="0.8"/>
<text x="964.0" y="878.8" font-size="6.7" text-anchor="middle" font-family="Liberation Sans, sans-serif"  fill="#4d4d4d" >-2</text>
<line x1="1034.2" y1="869.4" x2="1034.2" y2="871.9" stroke="#333" stroke-width="0.8"/>
<text x="1034.2" y="878.8" font-size="6.7" text-anchor="middle" font-family="Liberation Sans, sans-serif"  fill="#4d4d4d" >0</text>
<line x1="1104.4" y1="869.4" x2="1104.4" y2="871.9" stroke="#333" stroke-width="0.8"/>
<text x="1104.4" y="878.8" font-size="6.7" text-anchor="middle" font-family="Liberation Sans, sans-serif"  fill="#4d4d4d" >2</text>
<line x1="868.2" y1="682.5" x2="870.7" y2="682.5" stroke="#333" stroke-width="0.8"/>
<text x="865.9" y="685.3" font-size="6.7" text-anchor="end" font-family="Liberation Sans, sans-serif"  fill="#4d4d4d" >2</text>
<line x1="868.2" y1="753.0" x2="870.7" y2="753.0" stroke="#333" stroke-width="0.8"/>
<text x="865.9" y="755.8" font-size="6.7" text-anchor="end" font-family="Liberation Sans, sans-serif"  fill="#4d4d4d" >0</text>
<line x1="868.2" y1="823.5" x2="870.7" y2="823.5" stroke="#333" stroke-width="0.8"/>
<text x="865.9" y="826.3" font-size="6.7" text-anchor="end" font-family="Liberation Sans, sans-serif"  fill="#4d4d4d" >-2</text>
<text x="1004.1" y="894.6" font-size="11.4" text-anchor="middle" font-family="Liberation Serif, serif" font-weight="bold" fill="#000" >PC2 (12.89%)</text>
<text transform="translate(856.0,761.8) rotate(-90)" font-size="11.4" text-anchor="middle" font-family="Liberation Serif, serif" font-weight="bold" fill="#000">PC3 (11.65%)</text>
<text x="848.0" y="650.0" font-size="24" text-anchor="start" font-family="Liberation Serif, serif"  fill="#000" >i</text>
<path d="M987.8 116.4L1010.9 86.9L1038.7 95.1L1085.5 135.5L1046.7 150.6L1037.3 151.1Z" fill="#F8766D" fill-opacity="0.145" stroke="#F8766D" stroke-width="0.75" stroke-linejoin="round"/>
<path d="M953.6 95.4L961.6 78.4L1013.7 23.3L1071.5 72.5L1096.9 112.4L1111.8 167.5L1000.7 244.1L986.4 233.4L957.9 139.9Z" fill="#00BA38" fill-opacity="0.145" stroke="#00BA38" stroke-width="0.75" stroke-linejoin="round"/>
<path d="M883.0 195.7L977.8 106.6L1059.9 101.5L1080.7 146.0L1076.1 179.9Z" fill="#619CFF" fill-opacity="0.145" stroke="#619CFF" stroke-width="0.75" stroke-linejoin="round"/>
<path d="M1010.9 84.9L1012.9 86.9L1010.9 88.9L1008.9 86.9Z" fill="#F8766D" stroke="none" stroke-width="0"/>
<path d="M1038.7 93.1L1040.7 95.1L1038.7 97.1L1036.7 95.1Z" fill="#F8766D" stroke="none" stroke-width="0"/>
<path d="M987.8 114.4L989.8 116.4L987.8 118.4L985.8 116.4Z" fill="#F8766D" stroke="none" stroke-width="0"/>
<path d="M1033.9 130.4L1035.9 132.4L1033.9 134.4L1031.9 132.4Z" fill="#F8766D" stroke="none" stroke-width="0"/>
<path d="M1085.5 133.5L1087.5 135.5L1085.5 137.5L1083.5 135.5Z" fill="#F8766D" stroke="none" stroke-width="0"/>
<path d="M1037.3 149.1L1039.3 151.1L1037.3 153.1L1035.3 151.1Z" fill="#F8766D" stroke="none" stroke-width="0"/>
<path d="M1046.7 148.6L1048.7 150.6L1046.7 152.6L1044.7 150.6Z" fill="#F8766D" stroke="none" stroke-width="0"/>
<path d="M1027.1 85.6L1029.3 89.4L1024.9 89.4Z" fill="#00BA38"/>
<path d="M1096.9 110.2L1099.1 114.0L1094.7 114.0Z" fill="#00BA38"/>
<path d="M1050.9 127.1L1053.1 131.0L1048.7 131.0Z" fill="#00BA38"/>
<path d="M1076.4 133.3L1078.6 137.1L1074.2 137.1Z" fill="#00BA38"/>
<path d="M1091.7 134.4L1093.9 138.3L1089.5 138.3Z" fill="#00BA38"/>
<path d="M1100.3 136.1L1102.5 140.0L1098.1 140.0Z" fill="#00BA38"/>
<path d="M1089.7 138.7L1091.9 142.5L1087.5 142.5Z" fill="#00BA38"/>
<path d="M1063.3 156.2L1065.5 160.0L1061.1 160.0Z" fill="#00BA38"/>
<path d="M1076.4 155.1L1078.6 159.0L1074.2 159.0Z" fill="#00BA38"/>
<path d="M1080.3 155.1L1082.5 159.0L1078.1 159.0Z" fill="#00BA38"/>
<path d="M1094.0 159.9L1096.2 163.7L1091.8 163.7Z" fill="#00BA38"/>
<path d="M1089.7 165.0L1091.9 168.8L1087.5 168.8Z" fill="#00BA38"/>
<path d="M1111.8 165.3L1114.0 169.2L1109.6 169.2Z" fill="#00BA38"/>
<path d="M1091.7 173.0L1093.9 176.8L1089.5 176.8Z" fill="#00BA38"/>
<path d="M1097.0 171.4L1099.2 175.3L1094.8 175.3Z" fill="#00BA38"/>
<path d="M1030.5 186.2L1032.7 190.0L1028.3 190.0Z" fill="#00BA38"/>
<path d="M1055.7 193.0L1057.9 196.8L1053.5 196.8Z" fill="#00BA38"/>
<path d="M961.6 76.2L963.8 80.0L959.4 80.0Z" fill="#00BA38"/>
<path d="M953.6 93.2L955.8 97.0L951.4 97.0Z" fill="#00BA38"/>
<path d="M1027.6 88.9L1029.8 92.8L1025.4 92.8Z" fill="#00BA38"/>
<path d="M1063.0 89.8L1065.2 93.6L1060.8 93.6Z" fill="#00BA38"/>
<path d="M1010.9 107.5L1013.1 111.3L1008.7 111.3Z" fill="#00BA38"/>
<path d="M1020.3 110.2L1022.5 114.0L1018.1 114.0Z" fill="#00BA38"/>
<path d="M1016.5 127.1L1018.7 131.0L1014.3 131.0Z" fill="#00BA38"/>
<path d="M957.9 137.7L960.1 141.5L955.7 141.5Z" fill="#00BA38"/>
<path d="M973.3 149.7L975.5 153.5L971.1 153.5Z" fill="#00BA38"/>
<path d="M1012.6 152.8L1014.8 156.6L1010.4 156.6Z" fill="#00BA38"/>
<path d="M999.9 163.6L1002.1 167.5L997.7 167.5Z" fill="#00BA38"/>
<path d="M986.4 231.2L988.6 235.0L984.2 235.0Z" fill="#00BA38"/>
<path d="M1053.3 87.1L1055.5 90.9L1051.1 90.9Z" fill="#00BA38"/>
<path d="M1049.7 109.0L1051.9 112.8L1047.5 112.8Z" fill="#00BA38"/>
<path d="M1070.1 115.4L1072.3 119.3L1067.9 119.3Z" fill="#00BA38"/>
<path d="M1089.7 130.5L1091.9 134.4L1087.5 134.4Z" fill="#00BA38"/>
<path d="M1067.2 144.8L1069.4 148.6L1065.0 148.6Z" fill="#00BA38"/>
<path d="M1106.2 146.7L1108.4 150.5L1104.0 150.5Z" fill="#00BA38"/>
<path d="M1047.2 155.7L1049.4 159.5L1045.0 159.5Z" fill="#00BA38"/>
<path d="M1091.4 157.9L1093.6 161.7L1089.2 161.7Z" fill="#00BA38"/>
<path d="M993.2 169.2L995.4 173.1L991.0 173.1Z" fill="#00BA38"/>
<path d="M1013.7 21.1L1015.9 24.9L1011.5 24.9Z" fill="#00BA38"/>
<path d="M1045.6 59.4L1047.8 63.2L1043.4 63.2Z" fill="#00BA38"/>
<path d="M1054.0 97.1L1056.2 100.9L1051.8 100.9Z" fill="#00BA38"/>
<path d="M1037.0 119.5L1039.2 123.3L1034.8 123.3Z" fill="#00BA38"/>
<path d="M1057.4 134.8L1059.6 138.6L1055.2 138.6Z" fill="#00BA38"/>
<path d="M1030.2 144.1L1032.4 147.9L1028.0 147.9Z" fill="#00BA38"/>
<path d="M1000.7 145.0L1002.9 148.8L998.5 148.8Z" fill="#00BA38"/>
<path d="M1006.7 153.1L1008.9 156.9L1004.5 156.9Z" fill="#00BA38"/>
<path d="M974.5 162.4L976.7 166.3L972.3 166.3Z" fill="#00BA38"/>
<path d="M1003.8 175.7L1006.0 179.5L1001.6 179.5Z" fill="#00BA38"/>
<path d="M1022.0 176.4L1024.2 180.2L1019.8 180.2Z" fill="#00BA38"/>
<path d="M1027.1 190.5L1029.3 194.3L1024.9 194.3Z" fill="#00BA38"/>
<path d="M1027.1 193.0L1029.3 196.8L1024.9 196.8Z" fill="#00BA38"/>
<path d="M1005.0 67.4L1007.2 71.2L1002.8 71.2Z" fill="#00BA38"/>
<path d="M1071.5 70.3L1073.7 74.1L1069.3 74.1Z" fill="#00BA38"/>
<path d="M1057.7 81.0L1059.9 84.8L1055.5 84.8Z" fill="#00BA38"/>
<path d="M1033.9 86.6L1036.1 90.4L1031.7 90.4Z" fill="#00BA38"/>
<path d="M1008.9 92.9L1011.1 96.7L1006.7 96.7Z" fill="#00BA38"/>
<path d="M1029.3 107.6L1031.5 111.4L1027.1 111.4Z" fill="#00BA38"/>
<path d="M1044.1 105.9L1046.3 109.8L1041.9 109.8Z" fill="#00BA38"/>
<path d="M1037.3 114.1L1039.5 117.9L1035.1 117.9Z" fill="#00BA38"/>
<path d="M1057.4 116.6L1059.6 120.4L1055.2 120.4Z" fill="#00BA38"/>
<path d="M1040.5 141.7L1042.7 145.6L1038.3 145.6Z" fill="#00BA38"/>
<path d="M1032.7 205.2L1034.9 209.0L1030.5 209.0Z" fill="#00BA38"/>
<path d="M1000.7 241.9L1002.9 245.7L998.5 245.7Z" fill="#00BA38"/>
<path d="M1061.0 93.7L1063.2 97.5L1058.8 97.5Z" fill="#00BA38"/>
<path d="M977.8 104.8L979.6 106.6L977.8 108.4L976.0 106.6Z" fill="#619CFF" stroke="none" stroke-width="0"/>
<path d="M982.2 115.1L984.0 116.9L982.2 118.7L980.4 116.9Z" fill="#619CFF" stroke="none" stroke-width="0"/>
<path d="M1059.9 99.7L1061.7 101.5L1059.9 103.3L1058.1 101.5Z" fill="#619CFF" stroke="none" stroke-width="0"/>
<path d="M1047.7 122.6L1049.5 124.4L1047.7 126.2L1045.9 124.4Z" fill="#619CFF" stroke="none" stroke-width="0"/>
<path d="M1035.8 124.3L1037.6 126.1L1035.8 127.9L1034.0 126.1Z" fill="#619CFF" stroke="none" stroke-width="0"/>
<path d="M1016.9 132.6L1018.7 134.4L1016.9 136.2L1015.1 134.4Z" fill="#619CFF" stroke="none" stroke-width="0"/>
<path d="M1030.2 158.3L1032.0 160.1L1030.2 161.9L1028.4 160.1Z" fill="#619CFF" stroke="none" stroke-width="0"/>
<path d="M883.0 193.9L884.8 195.7L883.0 197.5L881.2 195.7Z" fill="#619CFF" stroke="none" stroke-width="0"/>
<path d="M1072.2 130.9L1074.0 132.7L1072.2 134.5L1070.4 132.7Z" fill="#619CFF" stroke="none" stroke-width="0"/>
<path d="M1041.2 138.6L1043.0 140.4L1041.2 142.2L1039.4 140.4Z" fill="#619CFF" stroke="none" stroke-width="0"/>
<path d="M1080.7 144.2L1082.5 146.0L1080.7 147.8L1078.9 146.0Z" fill="#619CFF" stroke="none" stroke-width="0"/>
<path d="M1060.3 165.4L1062.1 167.2L1060.3 169.0L1058.5 167.2Z" fill="#619CFF" stroke="none" stroke-width="0"/>
<path d="M1076.1 178.1L1077.9 179.9L1076.1 181.7L1074.3 179.9Z" fill="#619CFF" stroke="none" stroke-width="0"/>
<path d="M1028.0 399.3L1098.5 424.1L1113.6 479.8L1056.9 507.8L1031.4 500.9Z" fill="#F8766D" fill-opacity="0.145" stroke="#F8766D" stroke-width="0.75" stroke-linejoin="round"/>
<path d="M882.4 508.3L961.8 389.9L1014.4 334.2L1046.7 372.9L1107.9 461.0L1093.0 472.3L986.9 546.3Z" fill="#7CAE00" fill-opacity="0.145" stroke="#7CAE00" stroke-width="0.75" stroke-linejoin="round"/>
<path d="M1042.2 452.4L1073.5 444.7L1082.1 458.1L1077.5 492.3L1061.5 479.5Z" fill="#00BFC4" fill-opacity="0.145" stroke="#00BFC4" stroke-width="0.75" stroke-linejoin="round"/>
<path d="M1001.3 557.1L1005.6 380.9L1072.8 383.9L1033.6 520.1Z" fill="#C77CFF" fill-opacity="0.145" stroke="#C77CFF" stroke-width="0.75" stroke-linejoin="round"/>
<path d="M1028.0 397.2L1030.1 399.3L1028.0 401.4L1025.9 399.3Z" fill="#F8766D" stroke="none" stroke-width="0"/>
<path d="M1098.5 422.0L1100.6 424.1L1098.5 426.2L1096.4 424.1Z" fill="#F8766D" stroke="none" stroke-width="0"/>
<path d="M1052.0 439.2L1054.1 441.3L1052.0 443.4L1049.9 441.3Z" fill="#F8766D" stroke="none" stroke-width="0"/>
<path d="M1077.8 445.3L1079.9 447.4L1077.8 449.5L1075.7 447.4Z" fill="#F8766D" stroke="none" stroke-width="0"/>
<path d="M1093.3 446.5L1095.4 448.6L1093.3 450.7L1091.2 448.6Z" fill="#F8766D" stroke="none" stroke-width="0"/>
<path d="M1101.9 448.3L1104.0 450.4L1101.9 452.5L1099.8 450.4Z" fill="#F8766D" stroke="none" stroke-width="0"/>
<path d="M1091.2 450.8L1093.3 452.9L1091.2 455.0L1089.1 452.9Z" fill="#F8766D" stroke="none" stroke-width="0"/>
<path d="M1064.6 468.5L1066.7 470.6L1064.6 472.7L1062.5 470.6Z" fill="#F8766D" stroke="none" stroke-width="0"/>
<path d="M1077.8 467.5L1079.9 469.6L1077.8 471.7L1075.7 469.6Z" fill="#F8766D" stroke="none" stroke-width="0"/>
<path d="M1081.8 467.5L1083.9 469.6L1081.8 471.7L1079.7 469.6Z" fill="#F8766D" stroke="none" stroke-width="0"/>
<path d="M1095.5 472.3L1097.6 474.4L1095.5 476.5L1093.4 474.4Z" fill="#F8766D" stroke="none" stroke-width="0"/>
<path d="M1091.2 477.4L1093.3 479.5L1091.2 481.6L1089.1 479.5Z" fill="#F8766D" stroke="none" stroke-width="0"/>
<path d="M1113.6 477.7L1115.7 479.8L1113.6 481.9L1111.5 479.8Z" fill="#F8766D" stroke="none" stroke-width="0"/>
<path d="M1093.3 485.4L1095.4 487.5L1093.3 489.6L1091.2 487.5Z" fill="#F8766D" stroke="none" stroke-width="0"/>
<path d="M1098.6 483.9L1100.7 486.0L1098.6 488.1L1096.5 486.0Z" fill="#F8766D" stroke="none" stroke-width="0"/>
<path d="M1031.4 498.8L1033.5 500.9L1031.4 503.0L1029.3 500.9Z" fill="#F8766D" stroke="none" stroke-width="0"/>
<path d="M1056.9 505.7L1059.0 507.8L1056.9 509.9L1054.8 507.8Z" fill="#F8766D" stroke="none" stroke-width="0"/>
<path d="M1011.6 396.2L1013.8 400.1L1009.4 400.1Z" fill="#7CAE00"/>
<path d="M1039.7 404.5L1041.9 408.3L1037.5 408.3Z" fill="#7CAE00"/>
<path d="M988.3 426.0L990.5 429.9L986.1 429.9Z" fill="#7CAE00"/>
<path d="M1034.9 442.2L1037.1 446.0L1032.7 446.0Z" fill="#7CAE00"/>
<path d="M1086.9 445.2L1089.1 449.1L1084.7 449.1Z" fill="#7CAE00"/>
<path d="M1038.3 461.0L1040.5 464.8L1036.1 464.8Z" fill="#7CAE00"/>
<path d="M1047.7 460.5L1049.9 464.3L1045.5 464.3Z" fill="#7CAE00"/>
<path d="M961.8 387.7L964.0 391.5L959.6 391.5Z" fill="#7CAE00"/>
<path d="M953.7 404.8L955.9 408.6L951.5 408.6Z" fill="#7CAE00"/>
<path d="M1028.5 400.5L1030.7 404.3L1026.3 404.3Z" fill="#7CAE00"/>
<path d="M1064.2 401.4L1066.4 405.2L1062.0 405.2Z" fill="#7CAE00"/>
<path d="M1011.6 419.2L1013.8 423.0L1009.4 423.0Z" fill="#7CAE00"/>
<path d="M1021.1 421.9L1023.3 425.8L1018.9 425.8Z" fill="#7CAE00"/>
<path d="M1017.3 439.1L1019.5 442.9L1015.1 442.9Z" fill="#7CAE00"/>
<path d="M958.0 449.7L960.2 453.5L955.8 453.5Z" fill="#7CAE00"/>
<path d="M973.7 461.9L975.9 465.7L971.5 465.7Z" fill="#7CAE00"/>
<path d="M1013.4 465.0L1015.6 468.8L1011.2 468.8Z" fill="#7CAE00"/>
<path d="M1000.5 475.9L1002.7 479.8L998.3 479.8Z" fill="#7CAE00"/>
<path d="M986.9 544.1L989.1 548.0L984.7 548.0Z" fill="#7CAE00"/>
<path d="M1054.4 398.6L1056.6 402.5L1052.2 402.5Z" fill="#7CAE00"/>
<path d="M1050.8 420.7L1053.0 424.6L1048.6 424.6Z" fill="#7CAE00"/>
<path d="M1071.5 427.2L1073.7 431.1L1069.3 431.1Z" fill="#7CAE00"/>
<path d="M1091.2 442.5L1093.4 446.3L1089.0 446.3Z" fill="#7CAE00"/>
<path d="M1068.5 456.9L1070.7 460.7L1066.3 460.7Z" fill="#7CAE00"/>
<path d="M1107.9 458.8L1110.1 462.6L1105.7 462.6Z" fill="#7CAE00"/>
<path d="M1048.3 467.9L1050.5 471.7L1046.1 471.7Z" fill="#7CAE00"/>
<path d="M1093.0 470.1L1095.2 473.9L1090.8 473.9Z" fill="#7CAE00"/>
<path d="M993.8 481.6L996.0 485.4L991.6 485.4Z" fill="#7CAE00"/>
<path d="M1014.4 332.0L1016.6 335.8L1012.2 335.8Z" fill="#7CAE00"/>
<path d="M1046.7 370.7L1048.9 374.5L1044.5 374.5Z" fill="#7CAE00"/>
<path d="M1055.1 408.7L1057.3 412.6L1052.9 412.6Z" fill="#7CAE00"/>
<path d="M1037.9 431.4L1040.1 435.2L1035.7 435.2Z" fill="#7CAE00"/>
<path d="M1058.6 446.8L1060.8 450.6L1056.4 450.6Z" fill="#7CAE00"/>
<path d="M1031.1 456.2L1033.3 460.0L1028.9 460.0Z" fill="#7CAE00"/>
<path d="M1001.3 457.1L1003.5 460.9L999.1 460.9Z" fill="#7CAE00"/>
<path d="M1007.4 465.3L1009.6 469.1L1005.2 469.1Z" fill="#7CAE00"/>
<path d="M974.9 474.7L977.1 478.6L972.7 478.6Z" fill="#7CAE00"/>
<path d="M1004.4 488.1L1006.6 491.9L1002.2 491.9Z" fill="#7CAE00"/>
<path d="M1022.8 488.8L1025.0 492.6L1020.6 492.6Z" fill="#7CAE00"/>
<path d="M1028.0 503.0L1030.2 506.8L1025.8 506.8Z" fill="#7CAE00"/>
<path d="M1028.0 505.6L1030.2 509.4L1025.8 509.4Z" fill="#7CAE00"/>
<path d="M978.1 416.1L980.3 419.9L975.9 419.9Z" fill="#7CAE00"/>
<path d="M982.6 426.6L984.8 430.4L980.4 430.4Z" fill="#7CAE00"/>
<path d="M1061.2 411.0L1063.4 414.8L1059.0 414.8Z" fill="#7CAE00"/>
<path d="M1048.8 434.1L1051.0 437.9L1046.6 437.9Z" fill="#7CAE00"/>
<path d="M1036.7 435.8L1038.9 439.6L1034.5 439.6Z" fill="#7CAE00"/>
<path d="M1017.7 444.2L1019.9 448.0L1015.5 448.0Z" fill="#7CAE00"/>
<path d="M1031.1 470.1L1033.3 473.9L1028.9 473.9Z" fill="#7CAE00"/>
<path d="M882.4 506.1L884.6 509.9L880.2 509.9Z" fill="#7CAE00"/>
<circle cx="1073.5" cy="444.7" r="1.6" fill="#00BFC4" stroke="none" stroke-width="0"/>
<circle cx="1042.2" cy="452.4" r="1.6" fill="#00BFC4" stroke="none" stroke-width="0"/>
<circle cx="1082.1" cy="458.1" r="1.6" fill="#00BFC4" stroke="none" stroke-width="0"/>
<circle cx="1061.5" cy="479.5" r="1.6" fill="#00BFC4" stroke="none" stroke-width="0"/>
<circle cx="1077.5" cy="492.3" r="1.6" fill="#00BFC4" stroke="none" stroke-width="0"/>
<path d="M1005.6 378.8L1007.7 380.9L1005.6 383.0L1003.5 380.9Z" fill="#C77CFF" stroke="none" stroke-width="0"/>
<path d="M1072.8 381.8L1074.9 383.9L1072.8 386.0L1070.7 383.9Z" fill="#C77CFF" stroke="none" stroke-width="0"/>
<path d="M1058.9 392.6L1061.0 394.7L1058.9 396.8L1056.8 394.7Z" fill="#C77CFF" stroke="none" stroke-width="0"/>
<path d="M1034.9 398.2L1037.0 400.3L1034.9 402.4L1032.8 400.3Z" fill="#C77CFF" stroke="none" stroke-width="0"/>
<path d="M1009.6 404.6L1011.7 406.7L1009.6 408.8L1007.5 406.7Z" fill="#C77CFF" stroke="none" stroke-width="0"/>
<path d="M1030.2 419.5L1032.3 421.6L1030.2 423.7L1028.1 421.6Z" fill="#C77CFF" stroke="none" stroke-width="0"/>
<path d="M1045.2 417.7L1047.3 419.8L1045.2 421.9L1043.1 419.8Z" fill="#C77CFF" stroke="none" stroke-width="0"/>
<path d="M1038.3 426.0L1040.4 428.1L1038.3 430.2L1036.2 428.1Z" fill="#C77CFF" stroke="none" stroke-width="0"/>
<path d="M1058.6 428.5L1060.7 430.6L1058.6 432.7L1056.5 430.6Z" fill="#C77CFF" stroke="none" stroke-width="0"/>
<path d="M1041.6 453.9L1043.7 456.0L1041.6 458.1L1039.5 456.0Z" fill="#C77CFF" stroke="none" stroke-width="0"/>
<path d="M1033.6 518.0L1035.7 520.1L1033.6 522.2L1031.5 520.1Z" fill="#C77CFF" stroke="none" stroke-width="0"/>
<path d="M1001.3 555.0L1003.4 557.1L1001.3 559.2L999.2 557.1Z" fill="#C77CFF" stroke="none" stroke-width="0"/>
<path d="M1062.2 405.4L1064.3 407.5L1062.2 409.6L1060.1 407.5Z" fill="#C77CFF" stroke="none" stroke-width="0"/>
<path d="M984.3 733.5L1007.0 704.5L1034.2 712.5L1080.0 752.2L1042.0 767.0L1032.8 767.5Z" fill="#F8766D" fill-opacity="0.145" stroke="#F8766D" stroke-width="0.75" stroke-linejoin="round"/>
<path d="M1022.8 705.3L1091.2 729.5L1105.8 783.7L1050.8 810.8L1026.2 804.2Z" fill="#CD9600" fill-opacity="0.145" stroke="#CD9600" stroke-width="0.75" stroke-linejoin="round"/>
<path d="M950.8 712.8L958.7 696.2L1058.0 709.5L983.0 848.3L955.0 756.5Z" fill="#7CAE00" fill-opacity="0.145" stroke="#7CAE00" stroke-width="0.75" stroke-linejoin="round"/>
<path d="M989.7 787.5L1048.5 706.8L1100.3 765.3L1085.8 776.3Z" fill="#00BE67" fill-opacity="0.145" stroke="#00BE67" stroke-width="0.75" stroke-linejoin="round"/>
<path d="M971.3 780.8L1009.7 642.0L1041.0 679.7L1049.2 716.7L1052.5 753.7L1022.8 810.8Z" fill="#00BFC4" fill-opacity="0.145" stroke="#00BFC4" stroke-width="0.75" stroke-linejoin="round"/>
<path d="M997.0 858.8L1001.2 687.5L1066.3 690.3L1028.3 822.8Z" fill="#00A9FF" fill-opacity="0.145" stroke="#00A9FF" stroke-width="0.75" stroke-linejoin="round"/>
<path d="M881.7 811.3L974.5 723.8L1055.0 718.8L1025.8 776.3Z" fill="#C77CFF" fill-opacity="0.145" stroke="#C77CFF" stroke-width="0.75" stroke-linejoin="round"/>
<path d="M1036.7 757.0L1067.0 749.5L1075.3 762.5L1070.8 795.8L1055.3 783.3Z" fill="#FF61CC" fill-opacity="0.145" stroke="#FF61CC" stroke-width="0.75" stroke-linejoin="round"/>
<circle cx="1007.0" cy="704.5" r="1.7" fill="#F8766D" stroke="none" stroke-width="0"/>
<circle cx="1034.2" cy="712.5" r="1.7" fill="#F8766D" stroke="none" stroke-width="0"/>
<circle cx="984.3" cy="733.5" r="1.7" fill="#F8766D" stroke="none" stroke-width="0"/>
<circle cx="1029.5" cy="749.2" r="1.7" fill="#F8766D" stroke="none" stroke-width="0"/>
<circle cx="1080.0" cy="752.2" r="1.7" fill="#F8766D" stroke="none" stroke-width="0"/>
<circle cx="1032.8" cy="767.5" r="1.7" fill="#F8766D" stroke="none" stroke-width="0"/>
<circle cx="1042.0" cy="767.0" r="1.7" fill="#F8766D" stroke="none" stroke-width="0"/>
<path d="M1022.8 703.1L1025.0 707.0L1020.6 707.0Z" fill="#CD9600"/>
<path d="M1091.2 727.3L1093.4 731.1L1089.0 731.1Z" fill="#CD9600"/>
<path d="M1046.2 744.0L1048.4 747.8L1044.0 747.8Z" fill="#CD9600"/>
<path d="M1071.2 750.0L1073.4 753.8L1069.0 753.8Z" fill="#CD9600"/>
<path d="M1086.2 751.1L1088.4 755.0L1084.0 755.0Z" fill="#CD9600"/>
<path d="M1094.5 752.8L1096.7 756.6L1092.3 756.6Z" fill="#CD9600"/>
<path d="M1084.2 755.3L1086.4 759.1L1082.0 759.1Z" fill="#CD9600"/>
<path d="M1058.3 772.5L1060.5 776.3L1056.1 776.3Z" fill="#CD9600"/>
<path d="M1071.2 771.5L1073.4 775.3L1069.0 775.3Z" fill="#CD9600"/>
<path d="M1075.0 771.5L1077.2 775.3L1072.8 775.3Z" fill="#CD9600"/>
<path d="M1088.3 776.1L1090.5 780.0L1086.1 780.0Z" fill="#CD9600"/>
<path d="M1084.2 781.1L1086.4 785.0L1082.0 785.0Z" fill="#CD9600"/>
<path d="M1105.8 781.5L1108.0 785.3L1103.6 785.3Z" fill="#CD9600"/>
<path d="M1086.2 789.0L1088.4 792.8L1084.0 792.8Z" fill="#CD9600"/>
<path d="M1091.3 787.5L1093.5 791.3L1089.1 791.3Z" fill="#CD9600"/>
<path d="M1026.2 802.0L1028.4 805.8L1024.0 805.8Z" fill="#CD9600"/>
<path d="M1050.8 808.6L1053.0 812.5L1048.6 812.5Z" fill="#CD9600"/>
<path d="M958.7 694.4L960.5 696.2L958.7 698.0L956.9 696.2Z" fill="#7CAE00" stroke="none" stroke-width="0"/>
<path d="M950.8 711.0L952.6 712.8L950.8 714.6L949.0 712.8Z" fill="#7CAE00" stroke="none" stroke-width="0"/>
<path d="M1023.3 706.9L1025.1 708.7L1023.3 710.5L1021.5 708.7Z" fill="#7CAE00" stroke="none" stroke-width="0"/>
<path d="M1058.0 707.7L1059.8 709.5L1058.0 711.3L1056.2 709.5Z" fill="#7CAE00" stroke="none" stroke-width="0"/>
<path d="M1007.0 725.0L1008.8 726.8L1007.0 728.6L1005.2 726.8Z" fill="#7CAE00" stroke="none" stroke-width="0"/>
<path d="M1016.2 727.7L1018.0 729.5L1016.2 731.3L1014.4 729.5Z" fill="#7CAE00" stroke="none" stroke-width="0"/>
<path d="M1012.5 744.4L1014.3 746.2L1012.5 748.0L1010.7 746.2Z" fill="#7CAE00" stroke="none" stroke-width="0"/>
<path d="M955.0 754.7L956.8 756.5L955.0 758.3L953.2 756.5Z" fill="#7CAE00" stroke="none" stroke-width="0"/>
<path d="M970.2 766.5L972.0 768.3L970.2 770.1L968.4 768.3Z" fill="#7CAE00" stroke="none" stroke-width="0"/>
<path d="M1008.7 769.5L1010.5 771.3L1008.7 773.1L1006.9 771.3Z" fill="#7CAE00" stroke="none" stroke-width="0"/>
<path d="M996.2 780.2L998.0 782.0L996.2 783.8L994.4 782.0Z" fill="#7CAE00" stroke="none" stroke-width="0"/>
<path d="M983.0 846.5L984.8 848.3L983.0 850.1L981.2 848.3Z" fill="#7CAE00" stroke="none" stroke-width="0"/>
<circle cx="1048.5" cy="706.8" r="2.0" fill="#00BE67" stroke="none" stroke-width="0"/>
<circle cx="1045.0" cy="728.3" r="2.0" fill="#00BE67" stroke="none" stroke-width="0"/>
<circle cx="1065.0" cy="734.7" r="2.0" fill="#00BE67" stroke="none" stroke-width="0"/>
<circle cx="1084.2" cy="749.5" r="2.0" fill="#00BE67" stroke="none" stroke-width="0"/>
<circle cx="1062.2" cy="763.5" r="2.0" fill="#00BE67" stroke="none" stroke-width="0"/>
<circle cx="1100.3" cy="765.3" r="2.0" fill="#00BE67" stroke="none" stroke-width="0"/>
<circle cx="1042.5" cy="774.2" r="2.0" fill="#00BE67" stroke="none" stroke-width="0"/>
<circle cx="1085.8" cy="776.3" r="2.0" fill="#00BE67" stroke="none" stroke-width="0"/>
<circle cx="989.7" cy="787.5" r="2.0" fill="#00BE67" stroke="none" stroke-width="0"/>
<circle cx="1009.7" cy="642.0" r="1.3" fill="#00BFC4" stroke="none" stroke-width="0"/>
<circle cx="1041.0" cy="679.7" r="1.3" fill="#00BFC4" stroke="none" stroke-width="0"/>
<circle cx="1049.2" cy="716.7" r="1.3" fill="#00BFC4" stroke="none" stroke-width="0"/>
<circle cx="1032.5" cy="738.7" r="1.3" fill="#00BFC4" stroke="none" stroke-width="0"/>
<circle cx="1052.5" cy="753.7" r="1.3" fill="#00BFC4" stroke="none" stroke-width="0"/>
<circle cx="1025.8" cy="762.8" r="1.3" fill="#00BFC4" stroke="none" stroke-width="0"/>
<circle cx="997.0" cy="763.7" r="1.3" fill="#00BFC4" stroke="none" stroke-width="0"/>
<circle cx="1002.8" cy="771.7" r="1.3" fill="#00BFC4" stroke="none" stroke-width="0"/>
<circle cx="971.3" cy="780.8" r="1.3" fill="#00BFC4" stroke="none" stroke-width="0"/>
<circle cx="1000.0" cy="793.8" r="1.3" fill="#00BFC4" stroke="none" stroke-width="0"/>
<circle cx="1017.8" cy="794.5" r="1.3" fill="#00BFC4" stroke="none" stroke-width="0"/>
<circle cx="1022.8" cy="808.3" r="1.3" fill="#00BFC4" stroke="none" stroke-width="0"/>
<circle cx="1022.8" cy="810.8" r="1.3" fill="#00BFC4" stroke="none" stroke-width="0"/>
<path d="M1001.2 685.3L1003.4 687.5L1001.2 689.7L999.0 687.5Z" fill="none" stroke="#00A9FF" stroke-width="0.8"/>
<path d="M1066.3 688.1L1068.5 690.3L1066.3 692.5L1064.1 690.3Z" fill="none" stroke="#00A9FF" stroke-width="0.8"/>
<path d="M1052.8 698.6L1055.0 700.8L1052.8 703.0L1050.6 700.8Z" fill="none" stroke="#00A9FF" stroke-width="0.8"/>
<path d="M1029.5 704.1L1031.7 706.3L1029.5 708.5L1027.3 706.3Z" fill="none" stroke="#00A9FF" stroke-width="0.8"/>
<path d="M1005.0 710.3L1007.2 712.5L1005.0 714.7L1002.8 712.5Z" fill="none" stroke="#00A9FF" stroke-width="0.8"/>
<path d="M1025.0 724.8L1027.2 727.0L1025.0 729.2L1022.8 727.0Z" fill="none" stroke="#00A9FF" stroke-width="0.8"/>
<path d="M1039.5 723.1L1041.7 725.3L1039.5 727.5L1037.3 725.3Z" fill="none" stroke="#00A9FF" stroke-width="0.8"/>
<path d="M1032.8 731.1L1035.0 733.3L1032.8 735.5L1030.6 733.3Z" fill="none" stroke="#00A9FF" stroke-width="0.8"/>
<path d="M1052.5 733.6L1054.7 735.8L1052.5 738.0L1050.3 735.8Z" fill="none" stroke="#00A9FF" stroke-width="0.8"/>
<path d="M1036.0 758.3L1038.2 760.5L1036.0 762.7L1033.8 760.5Z" fill="none" stroke="#00A9FF" stroke-width="0.8"/>
<path d="M1028.3 820.6L1030.5 822.8L1028.3 825.0L1026.1 822.8Z" fill="none" stroke="#00A9FF" stroke-width="0.8"/>
<path d="M997.0 856.6L999.2 858.8L997.0 861.0L994.8 858.8Z" fill="none" stroke="#00A9FF" stroke-width="0.8"/>
<path d="M1056.0 711.1L1058.2 713.3L1056.0 715.5L1053.8 713.3Z" fill="none" stroke="#00A9FF" stroke-width="0.8"/>
<rect x="972.5" y="721.8" width="4.0" height="4.0" fill="none" stroke="#C77CFF" stroke-width="0.8"/>
<rect x="976.8" y="732.0" width="4.0" height="4.0" fill="none" stroke="#C77CFF" stroke-width="0.8"/>
<rect x="1053.0" y="716.8" width="4.0" height="4.0" fill="none" stroke="#C77CFF" stroke-width="0.8"/>
<rect x="1041.0" y="739.3" width="4.0" height="4.0" fill="none" stroke="#C77CFF" stroke-width="0.8"/>
<rect x="1029.3" y="741.0" width="4.0" height="4.0" fill="none" stroke="#C77CFF" stroke-width="0.8"/>
<rect x="1010.8" y="749.2" width="4.0" height="4.0" fill="none" stroke="#C77CFF" stroke-width="0.8"/>
<rect x="1023.8" y="774.3" width="4.0" height="4.0" fill="none" stroke="#C77CFF" stroke-width="0.8"/>
<rect x="879.7" y="809.3" width="4.0" height="4.0" fill="none" stroke="#C77CFF" stroke-width="0.8"/>
<circle cx="1067.0" cy="749.5" r="2.0" fill="none" stroke="#FF61CC" stroke-width="0.8"/>
<circle cx="1036.7" cy="757.0" r="2.0" fill="none" stroke="#FF61CC" stroke-width="0.8"/>
<circle cx="1075.3" cy="762.5" r="2.0" fill="none" stroke="#FF61CC" stroke-width="0.8"/>
<circle cx="1055.3" cy="783.3" r="2.0" fill="none" stroke="#FF61CC" stroke-width="0.8"/>
<circle cx="1070.8" cy="795.8" r="2.0" fill="none" stroke="#FF61CC" stroke-width="0.8"/>
<text x="1109.0" y="29.5" font-size="11.25" text-anchor="start" font-family="Liberation Serif, serif" font-weight="bold" fill="#000" >Activities</text>
<rect x="1108.7" y="34.0" width="10.2" height="9.9" fill="#F8766D" fill-opacity="0.2" stroke="#F8766D" stroke-opacity="0.55" stroke-width="0.7"/>
<circle cx="1113.8" cy="39.0" r="1.2" fill="#F8766D" stroke="none" stroke-width="0"/>
<text x="1122.7" y="43.6" font-size="10" text-anchor="start" font-family="Liberation Serif, serif"  fill="#000" >Flaying</text>
<rect x="1108.7" y="44.4" width="10.2" height="9.9" fill="#00BA38" fill-opacity="0.2" stroke="#00BA38" stroke-opacity="0.55" stroke-width="0.7"/>
<path d="M1113.8 47.6L1115.6 50.7L1112.0 50.7Z" fill="#00BA38"/>
<text x="1122.7" y="54.0" font-size="10" text-anchor="start" font-family="Liberation Serif, serif"  fill="#000" >Fleshing</text>
<rect x="1108.7" y="54.8" width="10.2" height="9.9" fill="#619CFF" fill-opacity="0.2" stroke="#619CFF" stroke-opacity="0.55" stroke-width="0.7"/>
<circle cx="1113.8" cy="59.8" r="1.0" fill="#619CFF" stroke="none" stroke-width="0"/>
<text x="1122.7" y="64.4" font-size="10" text-anchor="start" font-family="Liberation Serif, serif"  fill="#000" >Meat cutting</text>
<text x="1108.6" y="345.5" font-size="10.75" text-anchor="start" font-family="Liberation Serif, serif" font-weight="bold" fill="#000" >State</text>
<rect x="1108.3" y="351.0" width="10.4" height="10.2" fill="#F8766D" fill-opacity="0.2" stroke="#F8766D" stroke-opacity="0.55" stroke-width="0.7"/>
<circle cx="1113.5" cy="356.2" r="1.2" fill="#F8766D" stroke="none" stroke-width="0"/>
<text x="1124.5" y="359.1" font-size="9.4" text-anchor="start" font-family="Liberation Serif, serif"  fill="#000" >Dry</text>
<rect x="1108.3" y="361.7" width="10.4" height="10.2" fill="#7CAE00" fill-opacity="0.2" stroke="#7CAE00" stroke-opacity="0.55" stroke-width="0.7"/>
<path d="M1113.5 365.1L1115.3 368.2L1111.7 368.2Z" fill="#7CAE00"/>
<text x="1124.5" y="369.8" font-size="9.4" text-anchor="start" font-family="Liberation Serif, serif"  fill="#000" >Fresh</text>
<rect x="1108.3" y="372.4" width="10.4" height="10.2" fill="#00BFC4" fill-opacity="0.2" stroke="#00BFC4" stroke-opacity="0.55" stroke-width="0.7"/>
<circle cx="1113.5" cy="377.6" r="1.0" fill="#00BFC4" stroke="none" stroke-width="0"/>
<text x="1124.5" y="380.5" font-size="9.4" text-anchor="start" font-family="Liberation Serif, serif"  fill="#000" >Frozen</text>
<rect x="1108.3" y="383.1" width="10.4" height="10.2" fill="#C77CFF" fill-opacity="0.2" stroke="#C77CFF" stroke-opacity="0.55" stroke-width="0.7"/>
<circle cx="1113.5" cy="388.2" r="1.2" fill="#C77CFF" stroke="none" stroke-width="0"/>
<text x="1124.5" y="391.2" font-size="9.4" text-anchor="start" font-family="Liberation Serif, serif"  fill="#000" >Wet</text>
<text x="1107.7" y="646.9" font-size="11.0" text-anchor="start" font-family="Liberation Serif, serif" font-weight="bold" fill="#000" >Experiments</text>
<rect x="1107.4" y="654.0" width="10.4" height="10.3" fill="#F8766D" fill-opacity="0.2" stroke="#F8766D" stroke-opacity="0.55" stroke-width="0.7"/>
<circle cx="1112.6" cy="659.2" r="1.2" fill="#F8766D" stroke="none" stroke-width="0"/>
<text x="1121.4" y="661.8" font-size="9.2" text-anchor="start" font-family="Liberation Serif, serif"  fill="#000" >Flaying</text>
<rect x="1107.4" y="664.9" width="10.4" height="10.3" fill="#CD9600" fill-opacity="0.2" stroke="#CD9600" stroke-opacity="0.55" stroke-width="0.7"/>
<path d="M1112.6 668.3L1114.4 671.4L1110.8 671.4Z" fill="#CD9600"/>
<text x="1121.4" y="672.6" font-size="9.2" text-anchor="start" font-family="Liberation Serif, serif"  fill="#000" >Dry hide with sand</text>
<rect x="1107.4" y="675.7" width="10.4" height="10.3" fill="#7CAE00" fill-opacity="0.2" stroke="#7CAE00" stroke-opacity="0.55" stroke-width="0.7"/>
<path d="M1112.6 679.6L1113.9 680.9L1112.6 682.2L1111.3 680.9Z" fill="#7CAE00" stroke="none" stroke-width="0"/>
<text x="1121.4" y="683.5" font-size="9.2" text-anchor="start" font-family="Liberation Serif, serif"  fill="#000" >Fresh hide with marrow</text>
<rect x="1107.4" y="686.6" width="10.4" height="10.3" fill="#00BE67" fill-opacity="0.2" stroke="#00BE67" stroke-opacity="0.55" stroke-width="0.7"/>
<circle cx="1112.6" cy="691.8" r="1.5" fill="#00BE67" stroke="none" stroke-width="0"/>
<text x="1121.4" y="694.3" font-size="9.2" text-anchor="start" font-family="Liberation Serif, serif"  fill="#000" >Fresh hide with ocher</text>
<rect x="1107.4" y="697.4" width="10.4" height="10.3" fill="#00BFC4" fill-opacity="0.2" stroke="#00BFC4" stroke-opacity="0.55" stroke-width="0.7"/>
<path d="M1112.6 700.8L1114.5 704.1L1110.7 704.1Z" fill="none" stroke="#00BFC4" stroke-opacity="0.45" stroke-width="0.5"/>
<text x="1121.4" y="705.2" font-size="9.2" text-anchor="start" font-family="Liberation Serif, serif"  fill="#000" >Fresh hide with sand</text>
<rect x="1107.4" y="708.3" width="10.4" height="10.3" fill="#00A9FF" fill-opacity="0.2" stroke="#00A9FF" stroke-opacity="0.55" stroke-width="0.7"/>
<path d="M1110.8 713.5H1114.4M1112.6 711.7V715.3" fill="none" stroke="#00A9FF" stroke-opacity="0.5" stroke-width="0.5"/>
<text x="1121.4" y="716.0" font-size="9.2" text-anchor="start" font-family="Liberation Serif, serif"  fill="#000" >Wet hide with sand</text>
<rect x="1107.4" y="719.1" width="10.4" height="10.3" fill="#C77CFF" fill-opacity="0.2" stroke="#C77CFF" stroke-opacity="0.55" stroke-width="0.7"/>
<path d="M1111.1 722.8L1114.1 725.8M1114.1 722.8L1111.1 725.8" fill="none" stroke="#C77CFF" stroke-opacity="0.45" stroke-width="0.5"/>
<text x="1121.4" y="726.9" font-size="9.2" text-anchor="start" font-family="Liberation Serif, serif"  fill="#000" >Fresh meat</text>
<rect x="1107.4" y="730.0" width="10.4" height="10.3" fill="#FF61CC" fill-opacity="0.2" stroke="#FF61CC" stroke-opacity="0.55" stroke-width="0.7"/>
<circle cx="1112.6" cy="735.2" r="1.7" fill="none" stroke="#FF61CC" stroke-opacity="0.5" stroke-width="0.5"/>
<text x="1121.4" y="737.7" font-size="9.2" text-anchor="start" font-family="Liberation Serif, serif"  fill="#000" >Frozen meat</text>
</svg>
</body></html>
